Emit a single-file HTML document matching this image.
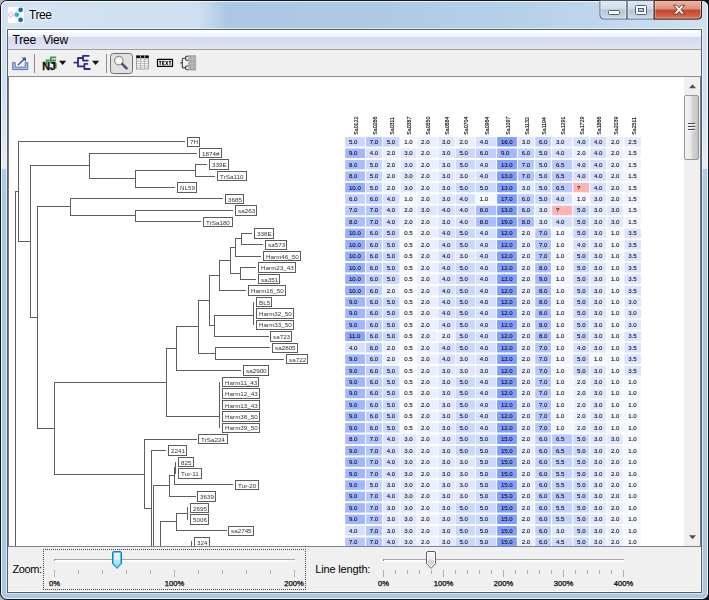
<!DOCTYPE html>
<html><head><meta charset="utf-8"><title>Tree</title>
<style>
*{box-sizing:border-box;margin:0;padding:0}
html,body{width:709px;height:600px;overflow:hidden;background:#b8b8b8;font-family:"Liberation Sans",sans-serif;}
.abs{position:absolute}
#win{position:absolute;left:0;top:0;width:709px;height:600px;border-radius:7px;background:#16181e;overflow:hidden;z-index:1}
#frame{position:absolute;left:1px;top:1px;width:707px;height:598px;border-radius:6px;
 background:linear-gradient(to bottom,#cddff0 0,#d0e1f1 110px,#e2edf7 167.5px,#aecbe6 168.5px,#aac8e3 200px,#aac8e3 100%);overflow:hidden}
#titlegrad{position:absolute;left:0;top:0;width:707px;height:29px;
 background:linear-gradient(to right,#d3e2f2 0,#cddff0 28%,#aac8e3 32%,#aecbe6 55%,#b6d1ea 75%,#c2d9ef 88%,#cfe1f2 100%)}
#hl{position:absolute;left:0;top:0;width:707px;height:598px;border-radius:6px;border:1px solid rgba(255,255,255,.75)}
#inner{position:absolute;left:7px;top:29px;width:695px;height:564px;background:#56606e}
#inhl{position:absolute;left:6px;top:28px;width:697px;height:566px;border:1px solid rgba(255,255,255,.55)}
#client{position:absolute;left:8px;top:30px;width:693px;height:562px;background:#f0f0f0;overflow:hidden}
#menubar{position:absolute;left:0;top:0;width:693px;height:19px;
 background:linear-gradient(to bottom,#ffffff 0,#fcfdff 10%,#edf0fa 35%,#d5d9ee 39%,#dadff1 70%,#e2e7f6 100%)}
#menuline{position:absolute;left:0;top:19px;width:693px;height:1px;background:#a0a0a2}
.mi{position:absolute;top:3px;font-size:12px;color:#000;letter-spacing:-0.2px}
#toolbar{position:absolute;left:0;top:20px;width:693px;height:26px;background:#f0f0f0}
#tbline{position:absolute;left:0;top:46px;width:693px;height:1px;background:#8c8c8c}
#content{position:absolute;left:0px;top:47px;width:676px;height:469px;background:#fff;overflow:hidden;border-left:1px solid #7a7a7a}
#content svg{position:absolute;left:-9px;top:-77px}
#vscroll{position:absolute;left:676px;top:47px;width:17px;height:469px;background:#f0f0f0;border-right:1px solid #747a84}
#thumb{position:absolute;left:0px;top:18px;width:14.5px;height:65px;border:1px solid #979797;border-radius:2px;
 background:linear-gradient(to right,#f3f3f3 0,#e9e9eb 45%,#d6d6d8 55%,#c3c3c6 100%)}
#botline{position:absolute;left:0;top:516px;width:693px;height:1px;background:#7e848e}
#bottom{position:absolute;left:0;top:517px;width:693px;height:45px;background:#f0f0f0}
.lbl{position:absolute;font-size:11px;line-height:11px;color:#000;white-space:nowrap}
.tk{position:absolute;font-size:7.6px;color:#000;-webkit-text-stroke:0.25px #000;transform:translateX(-50%);white-space:nowrap}
#title{position:absolute;left:29px;top:8px;font-size:12px;color:#000;letter-spacing:-0.4px;text-shadow:0 0 6px #fff,0 0 6px #fff,0 0 3px #fff}
</style></head><body>
<div class="abs" style="left:700px;top:0;width:9px;height:9px;background:#151515"></div><div class="abs" style="left:700px;top:591px;width:9px;height:9px;background:#151515"></div>
<div id="win">
 <div id="frame"><div id="titlegrad"></div><div id="hl"></div></div>
 <!-- title icon -->
 <svg class="abs" style="left:8px;top:7px" width="16" height="16" viewBox="0 0 16 16">
  <rect width="16" height="16" fill="#fff"/>
  <circle cx="2.9" cy="7.9" r="2.2" fill="none" stroke="#ff5fb4" stroke-width="0.9" stroke-dasharray="1.1 0.5"/>
  <line x1="5" y1="7.9" x2="12" y2="3" stroke="#cfe2f0" stroke-width="0.8"/>
  <line x1="5" y1="7.9" x2="12" y2="12.8" stroke="#cfe2f0" stroke-width="0.8"/>
  <circle cx="8.8" cy="7.8" r="2.3" fill="#1eb2ee"/>
  <circle cx="12.6" cy="2.9" r="2.4" fill="#1f6db0"/>
  <circle cx="12.6" cy="12.9" r="2.4" fill="#1f6db0"/>
 </svg>
 <div id="title">Tree</div>
 <!-- caption buttons -->
 <svg class="abs" style="left:598px;top:0" width="106" height="22" viewBox="0 0 106 22">
  <defs>
   <linearGradient id="gb" x1="0" y1="0" x2="0" y2="1"><stop offset="0" stop-color="#dfe9f4"/><stop offset=".45" stop-color="#cfdcea"/><stop offset=".5" stop-color="#b4c6d9"/><stop offset="1" stop-color="#c6d6e6"/></linearGradient>
   <linearGradient id="gr" x1="0" y1="0" x2="0" y2="1"><stop offset="0" stop-color="#edb7aa"/><stop offset=".46" stop-color="#dc8f7e"/><stop offset=".52" stop-color="#c4432b"/><stop offset="1" stop-color="#d9704f"/></linearGradient>
  </defs>
  <path d="M1.5 0V14.5Q1.5 19.5 6.5 19.5H99.5Q104 19.5 104 15V0Z" fill="#5b6675"/><path d="M56 0V19.5H99.5Q104 19.5 104 15V0Z" fill="#4d241b"/>
  <path d="M2.5 1V14.5Q2.5 18.5 6.5 18.5H28.2V1Z" fill="url(#gb)"/><path d="M3 1V14.5Q3 18 6.5 18H27.7V1" fill="none" stroke="rgba(255,255,255,.55)" stroke-width=".9"/>
  <path d="M29.8 1V18.5H55.2V1Z" fill="url(#gb)"/><path d="M30.3 1V18H54.7V1" fill="none" stroke="rgba(255,255,255,.55)" stroke-width=".9"/>
  <path d="M56.8 1V18.5H99.5Q103 18.5 103 15V1Z" fill="url(#gr)"/><path d="M57.3 1V18H99.5Q102.5 18 102.5 15V1" fill="none" stroke="rgba(255,255,255,.4)" stroke-width=".9"/>
  <!-- minimize -->
  <rect x="10.5" y="10.5" width="11" height="4" rx="1" fill="#fff" stroke="#53606f" stroke-width="1"/>
  <!-- maximize -->
  <rect x="37.5" y="5.5" width="11" height="9" rx="1" fill="#fff" stroke="#53606f" stroke-width="1"/>
  <rect x="40.5" y="8.5" width="5" height="3" fill="#b9c8d8" stroke="#53606f" stroke-width="1"/>
  <!-- close X -->
  <path d="M75.5 5.2h3.4l2.2 2.6 2.2-2.6h3.4l-3.8 4.4 3.9 4.5h-3.5l-2.2-2.6-2.2 2.6h-3.5l3.9-4.5z" fill="#fff" stroke="#5d3930" stroke-width=".9" stroke-linejoin="round"/>
 </svg>
 <div id="inhl"></div>
 <div id="inner"></div>
 <div id="client">
  <div id="menubar"><div class="mi" style="left:4.5px">Tree</div><div class="mi" style="left:35px">View</div></div>
  <div id="menuline"></div>
  <div id="toolbar">
   <svg class="abs" style="left:0;top:0" width="220" height="26" viewBox="8 50 220 26">
    <!-- export icon -->
    <path d="M12.6 62.6h2.6v4.6h10v-4.6h2.6v7h-15.2z" fill="#a9bde2" stroke="#4e6fae" stroke-width="0.9"/>
    <path d="M18 65.2L25.2 58" stroke="#2b3c94" stroke-width="1.2" fill="none"/>
    <path d="M21.6 57.4h4.4v4.4z" fill="#2b5ca8"/>
    <line x1="34.5" y1="54" x2="34.5" y2="73" stroke="#8e8e8e" stroke-width="1"/>
    <!-- NJ icon -->
    <path d="M56.2 57.4H50.8V63M56 60.3H46.6V64.5M50.8 63.2H55.5M55.8 63v5.5" stroke="#3a9a48" stroke-width="1.7" fill="none"/>
    <text x="42.2" y="69.6" font-size="10.8" font-weight="bold" fill="#111" stroke="#111" stroke-width=".35" letter-spacing="-0.3">NJ</text>
    <path d="M59 60.8h7.2l-3.6 4.2z" fill="#111"/>
    <!-- cluster icon -->
    <path d="M74.3 62.6H78M78 58V66.4M78 58H83M83 55.8V60.6M83 55.8H88.8M83 60.6H87.8M78 66.4H84.4M84.4 63.8V69M84.4 63.8H87.4M84.4 69H89.8" stroke="#2b2b8e" stroke-width="1.8" fill="none" stroke-linecap="round" stroke-linejoin="round"/>
    <path d="M92 60.8h7.2l-3.6 4.2z" fill="#111"/>
    <line x1="106.5" y1="54" x2="106.5" y2="73" stroke="#8e8e8e" stroke-width="1"/>
    <!-- magnifier button -->
    <rect x="110.5" y="53.5" width="22" height="20" rx="3" fill="#e1e1e1" stroke="#6f6f6f" stroke-width="1"/>
    <circle cx="118.8" cy="60.6" r="4.2" fill="#f8f8f2" stroke="#8f8f8f" stroke-width="1.2"/>
    <line x1="122.4" y1="64.2" x2="126.6" y2="68.4" stroke="#4c4c80" stroke-width="2.6" stroke-linecap="round"/>
    <!-- grid icon -->
    <rect x="136.4" y="55.6" width="12.2" height="13.4" fill="#fff" stroke="#8c8c8c" stroke-width=".8"/>
    <path d="M136.4 59.9h12.2M136.4 61.7h12.2M136.4 63.5h12.2M136.4 65.3h12.2M136.4 67.1h12.2M140.5 58v11M144.6 58v11" stroke="#9a9a9a" stroke-width=".6" fill="none"/>
    <rect x="136.3" y="55.6" width="12.4" height="2.6" fill="#0c0c0c"/>
    <path d="M140.5 55.4v3M144.6 55.4v3" stroke="#e8e8e8" stroke-width=".7"/>
    <!-- TEXT icon -->
    <rect x="157.5" y="59.3" width="15" height="7" rx="0.4" fill="#fff" stroke="#000" stroke-width="1.25"/>
    <path d="M158.9 61.3H161.5M160.2 61.3V65M164.7 61.3H162.6V64.9H164.7M162.6 63.1H164.2M165.5 61L168 65M168 61L165.5 65M168.7 61.3H171.3M170 61.3V65" stroke="#000" stroke-width="0.95" fill="none"/>
    <!-- tree-grid icon -->
    <rect x="188.3" y="55.2" width="7.8" height="15.4" fill="#a9a9a9"/>
    <path d="M188.3 59h7.8M188.3 62.9h7.8M188.3 66.8h7.8M192.2 55.2v15.4" stroke="#c2c2c2" stroke-width=".7"/>
    <path d="M180.4 62.9H182.3M182.3 59.4V66.8M182.3 59.4Q182.3 58.3 183.4 58.3H185.6M182.3 66.8Q182.3 67.9 183.4 67.9H185.6M185.7 57.2V59.6M185.7 57.2Q185.7 56.3 186.8 56.3H188.3M185.7 59.4Q185.7 60.2 186.8 60.2H188.3M185.7 66.6V69M185.7 66.8Q185.7 66 186.8 66H188.3M185.7 68.8Q185.7 69.7 186.8 69.7H188.3" stroke="#3c3c3c" stroke-width="1.1" fill="none"/>
   </svg>
  </div>
  <div id="tbline"></div>
  <div id="content">
   <svg width="709" height="600" viewBox="0 0 709 600" font-family="Liberation Sans, sans-serif">
<defs><filter id="gs" x="0" y="0" width="709" height="600" filterUnits="userSpaceOnUse" color-interpolation-filters="sRGB"><feColorMatrix type="saturate" values="0"/></filter></defs>
<rect x="345.2" y="137.08" width="19.8" height="9.47" fill="#cad7ff"/>
<rect x="366.0" y="137.08" width="16.0" height="9.47" fill="#b5c6ff"/>
<rect x="382.9" y="137.08" width="16.5" height="9.47" fill="#cad7ff"/>
<rect x="400.4" y="137.08" width="16.1" height="9.47" fill="#f4f7ff"/>
<rect x="417.3" y="137.08" width="20.2" height="9.47" fill="#eaefff"/>
<rect x="438.2" y="137.08" width="16.7" height="9.47" fill="#dfe7ff"/>
<rect x="455.6" y="137.08" width="19.6" height="9.47" fill="#eaefff"/>
<rect x="476.0" y="137.08" width="20.2" height="9.47" fill="#d5dfff"/>
<rect x="497.1" y="137.08" width="19.8" height="9.47" fill="#809eff"/>
<rect x="518.0" y="137.08" width="16.0" height="9.47" fill="#dfe7ff"/>
<rect x="535.2" y="137.08" width="15.8" height="9.47" fill="#bfcfff"/>
<rect x="552.1" y="137.08" width="20.1" height="9.47" fill="#dfe7ff"/>
<rect x="573.3" y="137.08" width="15.8" height="9.47" fill="#d5dfff"/>
<rect x="590.2" y="137.08" width="15.8" height="9.47" fill="#d5dfff"/>
<rect x="607.1" y="137.08" width="15.9" height="9.47" fill="#eaefff"/>
<rect x="624.4" y="137.08" width="16.6" height="9.47" fill="#e5ebff"/>
<rect x="345.2" y="148.52" width="19.8" height="9.47" fill="#a0b6ff"/>
<rect x="366.0" y="148.52" width="16.0" height="9.47" fill="#d5dfff"/>
<rect x="382.9" y="148.52" width="16.5" height="9.47" fill="#eaefff"/>
<rect x="400.4" y="148.52" width="16.1" height="9.47" fill="#dfe7ff"/>
<rect x="417.3" y="148.52" width="20.2" height="9.47" fill="#eaefff"/>
<rect x="438.2" y="148.52" width="16.7" height="9.47" fill="#dfe7ff"/>
<rect x="455.6" y="148.52" width="19.6" height="9.47" fill="#cad7ff"/>
<rect x="476.0" y="148.52" width="20.2" height="9.47" fill="#bfcfff"/>
<rect x="497.1" y="148.52" width="19.8" height="9.47" fill="#a0b6ff"/>
<rect x="518.0" y="148.52" width="16.0" height="9.47" fill="#bfcfff"/>
<rect x="535.2" y="148.52" width="15.8" height="9.47" fill="#cad7ff"/>
<rect x="552.1" y="148.52" width="20.1" height="9.47" fill="#d5dfff"/>
<rect x="573.3" y="148.52" width="15.8" height="9.47" fill="#eaefff"/>
<rect x="590.2" y="148.52" width="15.8" height="9.47" fill="#d5dfff"/>
<rect x="607.1" y="148.52" width="15.9" height="9.47" fill="#eaefff"/>
<rect x="624.4" y="148.52" width="16.6" height="9.47" fill="#eff3ff"/>
<rect x="345.2" y="159.96" width="19.8" height="9.47" fill="#aabeff"/>
<rect x="366.0" y="159.96" width="16.0" height="9.47" fill="#cad7ff"/>
<rect x="382.9" y="159.96" width="16.5" height="9.47" fill="#eaefff"/>
<rect x="400.4" y="159.96" width="16.1" height="9.47" fill="#dfe7ff"/>
<rect x="417.3" y="159.96" width="20.2" height="9.47" fill="#eaefff"/>
<rect x="438.2" y="159.96" width="16.7" height="9.47" fill="#dfe7ff"/>
<rect x="455.6" y="159.96" width="19.6" height="9.47" fill="#cad7ff"/>
<rect x="476.0" y="159.96" width="20.2" height="9.47" fill="#d5dfff"/>
<rect x="497.1" y="159.96" width="19.8" height="9.47" fill="#809eff"/>
<rect x="518.0" y="159.96" width="16.0" height="9.47" fill="#b5c6ff"/>
<rect x="535.2" y="159.96" width="15.8" height="9.47" fill="#cad7ff"/>
<rect x="552.1" y="159.96" width="20.1" height="9.47" fill="#bacaff"/>
<rect x="573.3" y="159.96" width="15.8" height="9.47" fill="#d5dfff"/>
<rect x="590.2" y="159.96" width="15.8" height="9.47" fill="#d5dfff"/>
<rect x="607.1" y="159.96" width="15.9" height="9.47" fill="#eaefff"/>
<rect x="624.4" y="159.96" width="16.6" height="9.47" fill="#eff3ff"/>
<rect x="345.2" y="171.40" width="19.8" height="9.47" fill="#aabeff"/>
<rect x="366.0" y="171.40" width="16.0" height="9.47" fill="#cad7ff"/>
<rect x="382.9" y="171.40" width="16.5" height="9.47" fill="#eaefff"/>
<rect x="400.4" y="171.40" width="16.1" height="9.47" fill="#dfe7ff"/>
<rect x="417.3" y="171.40" width="20.2" height="9.47" fill="#eaefff"/>
<rect x="438.2" y="171.40" width="16.7" height="9.47" fill="#dfe7ff"/>
<rect x="455.6" y="171.40" width="19.6" height="9.47" fill="#dfe7ff"/>
<rect x="476.0" y="171.40" width="20.2" height="9.47" fill="#d5dfff"/>
<rect x="497.1" y="171.40" width="19.8" height="9.47" fill="#809eff"/>
<rect x="518.0" y="171.40" width="16.0" height="9.47" fill="#b5c6ff"/>
<rect x="535.2" y="171.40" width="15.8" height="9.47" fill="#cad7ff"/>
<rect x="552.1" y="171.40" width="20.1" height="9.47" fill="#bacaff"/>
<rect x="573.3" y="171.40" width="15.8" height="9.47" fill="#d5dfff"/>
<rect x="590.2" y="171.40" width="15.8" height="9.47" fill="#d5dfff"/>
<rect x="607.1" y="171.40" width="15.9" height="9.47" fill="#eaefff"/>
<rect x="624.4" y="171.40" width="16.6" height="9.47" fill="#eff3ff"/>
<rect x="345.2" y="182.84" width="19.8" height="9.47" fill="#95aeff"/>
<rect x="366.0" y="182.84" width="16.0" height="9.47" fill="#cad7ff"/>
<rect x="382.9" y="182.84" width="16.5" height="9.47" fill="#eaefff"/>
<rect x="400.4" y="182.84" width="16.1" height="9.47" fill="#dfe7ff"/>
<rect x="417.3" y="182.84" width="20.2" height="9.47" fill="#eaefff"/>
<rect x="438.2" y="182.84" width="16.7" height="9.47" fill="#dfe7ff"/>
<rect x="455.6" y="182.84" width="19.6" height="9.47" fill="#cad7ff"/>
<rect x="476.0" y="182.84" width="20.2" height="9.47" fill="#cad7ff"/>
<rect x="497.1" y="182.84" width="19.8" height="9.47" fill="#809eff"/>
<rect x="518.0" y="182.84" width="16.0" height="9.47" fill="#dfe7ff"/>
<rect x="535.2" y="182.84" width="15.8" height="9.47" fill="#cad7ff"/>
<rect x="552.1" y="182.84" width="20.1" height="9.47" fill="#bacaff"/>
<rect x="573.3" y="182.84" width="15.8" height="9.47" fill="#ffb4b4"/>
<rect x="590.2" y="182.84" width="15.8" height="9.47" fill="#d5dfff"/>
<rect x="607.1" y="182.84" width="15.9" height="9.47" fill="#eaefff"/>
<rect x="624.4" y="182.84" width="16.6" height="9.47" fill="#eff3ff"/>
<rect x="345.2" y="194.28" width="19.8" height="9.47" fill="#bfcfff"/>
<rect x="366.0" y="194.28" width="16.0" height="9.47" fill="#bfcfff"/>
<rect x="382.9" y="194.28" width="16.5" height="9.47" fill="#d5dfff"/>
<rect x="400.4" y="194.28" width="16.1" height="9.47" fill="#f4f7ff"/>
<rect x="417.3" y="194.28" width="20.2" height="9.47" fill="#eaefff"/>
<rect x="438.2" y="194.28" width="16.7" height="9.47" fill="#dfe7ff"/>
<rect x="455.6" y="194.28" width="19.6" height="9.47" fill="#d5dfff"/>
<rect x="476.0" y="194.28" width="20.2" height="9.47" fill="#f4f7ff"/>
<rect x="497.1" y="194.28" width="19.8" height="9.47" fill="#809eff"/>
<rect x="518.0" y="194.28" width="16.0" height="9.47" fill="#bfcfff"/>
<rect x="535.2" y="194.28" width="15.8" height="9.47" fill="#cad7ff"/>
<rect x="552.1" y="194.28" width="20.1" height="9.47" fill="#d5dfff"/>
<rect x="573.3" y="194.28" width="15.8" height="9.47" fill="#f4f7ff"/>
<rect x="590.2" y="194.28" width="15.8" height="9.47" fill="#dfe7ff"/>
<rect x="607.1" y="194.28" width="15.9" height="9.47" fill="#eaefff"/>
<rect x="624.4" y="194.28" width="16.6" height="9.47" fill="#eff3ff"/>
<rect x="345.2" y="205.72" width="19.8" height="9.47" fill="#b5c6ff"/>
<rect x="366.0" y="205.72" width="16.0" height="9.47" fill="#b5c6ff"/>
<rect x="382.9" y="205.72" width="16.5" height="9.47" fill="#d5dfff"/>
<rect x="400.4" y="205.72" width="16.1" height="9.47" fill="#eaefff"/>
<rect x="417.3" y="205.72" width="20.2" height="9.47" fill="#dfe7ff"/>
<rect x="438.2" y="205.72" width="16.7" height="9.47" fill="#d5dfff"/>
<rect x="455.6" y="205.72" width="19.6" height="9.47" fill="#d5dfff"/>
<rect x="476.0" y="205.72" width="20.2" height="9.47" fill="#aabeff"/>
<rect x="497.1" y="205.72" width="19.8" height="9.47" fill="#809eff"/>
<rect x="518.0" y="205.72" width="16.0" height="9.47" fill="#bfcfff"/>
<rect x="535.2" y="205.72" width="15.8" height="9.47" fill="#dfe7ff"/>
<rect x="552.1" y="205.72" width="20.1" height="9.47" fill="#ffb4b4"/>
<rect x="573.3" y="205.72" width="15.8" height="9.47" fill="#cad7ff"/>
<rect x="590.2" y="205.72" width="15.8" height="9.47" fill="#dfe7ff"/>
<rect x="607.1" y="205.72" width="15.9" height="9.47" fill="#dfe7ff"/>
<rect x="624.4" y="205.72" width="16.6" height="9.47" fill="#eff3ff"/>
<rect x="345.2" y="217.16" width="19.8" height="9.47" fill="#aabeff"/>
<rect x="366.0" y="217.16" width="16.0" height="9.47" fill="#b5c6ff"/>
<rect x="382.9" y="217.16" width="16.5" height="9.47" fill="#d5dfff"/>
<rect x="400.4" y="217.16" width="16.1" height="9.47" fill="#eaefff"/>
<rect x="417.3" y="217.16" width="20.2" height="9.47" fill="#eaefff"/>
<rect x="438.2" y="217.16" width="16.7" height="9.47" fill="#dfe7ff"/>
<rect x="455.6" y="217.16" width="19.6" height="9.47" fill="#d5dfff"/>
<rect x="476.0" y="217.16" width="20.2" height="9.47" fill="#aabeff"/>
<rect x="497.1" y="217.16" width="19.8" height="9.47" fill="#809eff"/>
<rect x="518.0" y="217.16" width="16.0" height="9.47" fill="#aabeff"/>
<rect x="535.2" y="217.16" width="15.8" height="9.47" fill="#dfe7ff"/>
<rect x="552.1" y="217.16" width="20.1" height="9.47" fill="#d5dfff"/>
<rect x="573.3" y="217.16" width="15.8" height="9.47" fill="#cad7ff"/>
<rect x="590.2" y="217.16" width="15.8" height="9.47" fill="#dfe7ff"/>
<rect x="607.1" y="217.16" width="15.9" height="9.47" fill="#dfe7ff"/>
<rect x="624.4" y="217.16" width="16.6" height="9.47" fill="#eff3ff"/>
<rect x="345.2" y="228.60" width="19.8" height="9.47" fill="#95aeff"/>
<rect x="366.0" y="228.60" width="16.0" height="9.47" fill="#bfcfff"/>
<rect x="382.9" y="228.60" width="16.5" height="9.47" fill="#cad7ff"/>
<rect x="400.4" y="228.60" width="16.1" height="9.47" fill="#fafbff"/>
<rect x="417.3" y="228.60" width="20.2" height="9.47" fill="#eaefff"/>
<rect x="438.2" y="228.60" width="16.7" height="9.47" fill="#d5dfff"/>
<rect x="455.6" y="228.60" width="19.6" height="9.47" fill="#cad7ff"/>
<rect x="476.0" y="228.60" width="20.2" height="9.47" fill="#d5dfff"/>
<rect x="497.1" y="228.60" width="19.8" height="9.47" fill="#809eff"/>
<rect x="518.0" y="228.60" width="16.0" height="9.47" fill="#eaefff"/>
<rect x="535.2" y="228.60" width="15.8" height="9.47" fill="#b5c6ff"/>
<rect x="552.1" y="228.60" width="20.1" height="9.47" fill="#f4f7ff"/>
<rect x="573.3" y="228.60" width="15.8" height="9.47" fill="#cad7ff"/>
<rect x="590.2" y="228.60" width="15.8" height="9.47" fill="#dfe7ff"/>
<rect x="607.1" y="228.60" width="15.9" height="9.47" fill="#f4f7ff"/>
<rect x="624.4" y="228.60" width="16.6" height="9.47" fill="#dae3ff"/>
<rect x="345.2" y="240.04" width="19.8" height="9.47" fill="#95aeff"/>
<rect x="366.0" y="240.04" width="16.0" height="9.47" fill="#bfcfff"/>
<rect x="382.9" y="240.04" width="16.5" height="9.47" fill="#cad7ff"/>
<rect x="400.4" y="240.04" width="16.1" height="9.47" fill="#fafbff"/>
<rect x="417.3" y="240.04" width="20.2" height="9.47" fill="#eaefff"/>
<rect x="438.2" y="240.04" width="16.7" height="9.47" fill="#d5dfff"/>
<rect x="455.6" y="240.04" width="19.6" height="9.47" fill="#cad7ff"/>
<rect x="476.0" y="240.04" width="20.2" height="9.47" fill="#d5dfff"/>
<rect x="497.1" y="240.04" width="19.8" height="9.47" fill="#809eff"/>
<rect x="518.0" y="240.04" width="16.0" height="9.47" fill="#eaefff"/>
<rect x="535.2" y="240.04" width="15.8" height="9.47" fill="#b5c6ff"/>
<rect x="552.1" y="240.04" width="20.1" height="9.47" fill="#f4f7ff"/>
<rect x="573.3" y="240.04" width="15.8" height="9.47" fill="#d5dfff"/>
<rect x="590.2" y="240.04" width="15.8" height="9.47" fill="#dfe7ff"/>
<rect x="607.1" y="240.04" width="15.9" height="9.47" fill="#f4f7ff"/>
<rect x="624.4" y="240.04" width="16.6" height="9.47" fill="#dae3ff"/>
<rect x="345.2" y="251.48" width="19.8" height="9.47" fill="#95aeff"/>
<rect x="366.0" y="251.48" width="16.0" height="9.47" fill="#bfcfff"/>
<rect x="382.9" y="251.48" width="16.5" height="9.47" fill="#cad7ff"/>
<rect x="400.4" y="251.48" width="16.1" height="9.47" fill="#fafbff"/>
<rect x="417.3" y="251.48" width="20.2" height="9.47" fill="#eaefff"/>
<rect x="438.2" y="251.48" width="16.7" height="9.47" fill="#d5dfff"/>
<rect x="455.6" y="251.48" width="19.6" height="9.47" fill="#dfe7ff"/>
<rect x="476.0" y="251.48" width="20.2" height="9.47" fill="#d5dfff"/>
<rect x="497.1" y="251.48" width="19.8" height="9.47" fill="#809eff"/>
<rect x="518.0" y="251.48" width="16.0" height="9.47" fill="#eaefff"/>
<rect x="535.2" y="251.48" width="15.8" height="9.47" fill="#b5c6ff"/>
<rect x="552.1" y="251.48" width="20.1" height="9.47" fill="#f4f7ff"/>
<rect x="573.3" y="251.48" width="15.8" height="9.47" fill="#cad7ff"/>
<rect x="590.2" y="251.48" width="15.8" height="9.47" fill="#dfe7ff"/>
<rect x="607.1" y="251.48" width="15.9" height="9.47" fill="#f4f7ff"/>
<rect x="624.4" y="251.48" width="16.6" height="9.47" fill="#dae3ff"/>
<rect x="345.2" y="262.92" width="19.8" height="9.47" fill="#95aeff"/>
<rect x="366.0" y="262.92" width="16.0" height="9.47" fill="#bfcfff"/>
<rect x="382.9" y="262.92" width="16.5" height="9.47" fill="#cad7ff"/>
<rect x="400.4" y="262.92" width="16.1" height="9.47" fill="#fafbff"/>
<rect x="417.3" y="262.92" width="20.2" height="9.47" fill="#eaefff"/>
<rect x="438.2" y="262.92" width="16.7" height="9.47" fill="#d5dfff"/>
<rect x="455.6" y="262.92" width="19.6" height="9.47" fill="#cad7ff"/>
<rect x="476.0" y="262.92" width="20.2" height="9.47" fill="#d5dfff"/>
<rect x="497.1" y="262.92" width="19.8" height="9.47" fill="#809eff"/>
<rect x="518.0" y="262.92" width="16.0" height="9.47" fill="#eaefff"/>
<rect x="535.2" y="262.92" width="15.8" height="9.47" fill="#aabeff"/>
<rect x="552.1" y="262.92" width="20.1" height="9.47" fill="#f4f7ff"/>
<rect x="573.3" y="262.92" width="15.8" height="9.47" fill="#cad7ff"/>
<rect x="590.2" y="262.92" width="15.8" height="9.47" fill="#dfe7ff"/>
<rect x="607.1" y="262.92" width="15.9" height="9.47" fill="#f4f7ff"/>
<rect x="624.4" y="262.92" width="16.6" height="9.47" fill="#dae3ff"/>
<rect x="345.2" y="274.36" width="19.8" height="9.47" fill="#95aeff"/>
<rect x="366.0" y="274.36" width="16.0" height="9.47" fill="#bfcfff"/>
<rect x="382.9" y="274.36" width="16.5" height="9.47" fill="#cad7ff"/>
<rect x="400.4" y="274.36" width="16.1" height="9.47" fill="#fafbff"/>
<rect x="417.3" y="274.36" width="20.2" height="9.47" fill="#eaefff"/>
<rect x="438.2" y="274.36" width="16.7" height="9.47" fill="#d5dfff"/>
<rect x="455.6" y="274.36" width="19.6" height="9.47" fill="#cad7ff"/>
<rect x="476.0" y="274.36" width="20.2" height="9.47" fill="#d5dfff"/>
<rect x="497.1" y="274.36" width="19.8" height="9.47" fill="#809eff"/>
<rect x="518.0" y="274.36" width="16.0" height="9.47" fill="#eaefff"/>
<rect x="535.2" y="274.36" width="15.8" height="9.47" fill="#a0b6ff"/>
<rect x="552.1" y="274.36" width="20.1" height="9.47" fill="#f4f7ff"/>
<rect x="573.3" y="274.36" width="15.8" height="9.47" fill="#cad7ff"/>
<rect x="590.2" y="274.36" width="15.8" height="9.47" fill="#dfe7ff"/>
<rect x="607.1" y="274.36" width="15.9" height="9.47" fill="#f4f7ff"/>
<rect x="624.4" y="274.36" width="16.6" height="9.47" fill="#dae3ff"/>
<rect x="345.2" y="285.80" width="19.8" height="9.47" fill="#95aeff"/>
<rect x="366.0" y="285.80" width="16.0" height="9.47" fill="#bfcfff"/>
<rect x="382.9" y="285.80" width="16.5" height="9.47" fill="#eaefff"/>
<rect x="400.4" y="285.80" width="16.1" height="9.47" fill="#fafbff"/>
<rect x="417.3" y="285.80" width="20.2" height="9.47" fill="#eaefff"/>
<rect x="438.2" y="285.80" width="16.7" height="9.47" fill="#d5dfff"/>
<rect x="455.6" y="285.80" width="19.6" height="9.47" fill="#cad7ff"/>
<rect x="476.0" y="285.80" width="20.2" height="9.47" fill="#d5dfff"/>
<rect x="497.1" y="285.80" width="19.8" height="9.47" fill="#809eff"/>
<rect x="518.0" y="285.80" width="16.0" height="9.47" fill="#eaefff"/>
<rect x="535.2" y="285.80" width="15.8" height="9.47" fill="#aabeff"/>
<rect x="552.1" y="285.80" width="20.1" height="9.47" fill="#f4f7ff"/>
<rect x="573.3" y="285.80" width="15.8" height="9.47" fill="#cad7ff"/>
<rect x="590.2" y="285.80" width="15.8" height="9.47" fill="#dfe7ff"/>
<rect x="607.1" y="285.80" width="15.9" height="9.47" fill="#f4f7ff"/>
<rect x="624.4" y="285.80" width="16.6" height="9.47" fill="#dae3ff"/>
<rect x="345.2" y="297.24" width="19.8" height="9.47" fill="#a0b6ff"/>
<rect x="366.0" y="297.24" width="16.0" height="9.47" fill="#bfcfff"/>
<rect x="382.9" y="297.24" width="16.5" height="9.47" fill="#cad7ff"/>
<rect x="400.4" y="297.24" width="16.1" height="9.47" fill="#fafbff"/>
<rect x="417.3" y="297.24" width="20.2" height="9.47" fill="#eaefff"/>
<rect x="438.2" y="297.24" width="16.7" height="9.47" fill="#d5dfff"/>
<rect x="455.6" y="297.24" width="19.6" height="9.47" fill="#cad7ff"/>
<rect x="476.0" y="297.24" width="20.2" height="9.47" fill="#d5dfff"/>
<rect x="497.1" y="297.24" width="19.8" height="9.47" fill="#809eff"/>
<rect x="518.0" y="297.24" width="16.0" height="9.47" fill="#eaefff"/>
<rect x="535.2" y="297.24" width="15.8" height="9.47" fill="#aabeff"/>
<rect x="552.1" y="297.24" width="20.1" height="9.47" fill="#f4f7ff"/>
<rect x="573.3" y="297.24" width="15.8" height="9.47" fill="#cad7ff"/>
<rect x="590.2" y="297.24" width="15.8" height="9.47" fill="#dfe7ff"/>
<rect x="607.1" y="297.24" width="15.9" height="9.47" fill="#f4f7ff"/>
<rect x="624.4" y="297.24" width="16.6" height="9.47" fill="#dfe7ff"/>
<rect x="345.2" y="308.68" width="19.8" height="9.47" fill="#a0b6ff"/>
<rect x="366.0" y="308.68" width="16.0" height="9.47" fill="#bfcfff"/>
<rect x="382.9" y="308.68" width="16.5" height="9.47" fill="#cad7ff"/>
<rect x="400.4" y="308.68" width="16.1" height="9.47" fill="#fafbff"/>
<rect x="417.3" y="308.68" width="20.2" height="9.47" fill="#eaefff"/>
<rect x="438.2" y="308.68" width="16.7" height="9.47" fill="#d5dfff"/>
<rect x="455.6" y="308.68" width="19.6" height="9.47" fill="#cad7ff"/>
<rect x="476.0" y="308.68" width="20.2" height="9.47" fill="#d5dfff"/>
<rect x="497.1" y="308.68" width="19.8" height="9.47" fill="#809eff"/>
<rect x="518.0" y="308.68" width="16.0" height="9.47" fill="#eaefff"/>
<rect x="535.2" y="308.68" width="15.8" height="9.47" fill="#aabeff"/>
<rect x="552.1" y="308.68" width="20.1" height="9.47" fill="#f4f7ff"/>
<rect x="573.3" y="308.68" width="15.8" height="9.47" fill="#cad7ff"/>
<rect x="590.2" y="308.68" width="15.8" height="9.47" fill="#dfe7ff"/>
<rect x="607.1" y="308.68" width="15.9" height="9.47" fill="#f4f7ff"/>
<rect x="624.4" y="308.68" width="16.6" height="9.47" fill="#dfe7ff"/>
<rect x="345.2" y="320.12" width="19.8" height="9.47" fill="#a0b6ff"/>
<rect x="366.0" y="320.12" width="16.0" height="9.47" fill="#bfcfff"/>
<rect x="382.9" y="320.12" width="16.5" height="9.47" fill="#cad7ff"/>
<rect x="400.4" y="320.12" width="16.1" height="9.47" fill="#fafbff"/>
<rect x="417.3" y="320.12" width="20.2" height="9.47" fill="#eaefff"/>
<rect x="438.2" y="320.12" width="16.7" height="9.47" fill="#d5dfff"/>
<rect x="455.6" y="320.12" width="19.6" height="9.47" fill="#cad7ff"/>
<rect x="476.0" y="320.12" width="20.2" height="9.47" fill="#d5dfff"/>
<rect x="497.1" y="320.12" width="19.8" height="9.47" fill="#809eff"/>
<rect x="518.0" y="320.12" width="16.0" height="9.47" fill="#eaefff"/>
<rect x="535.2" y="320.12" width="15.8" height="9.47" fill="#aabeff"/>
<rect x="552.1" y="320.12" width="20.1" height="9.47" fill="#f4f7ff"/>
<rect x="573.3" y="320.12" width="15.8" height="9.47" fill="#cad7ff"/>
<rect x="590.2" y="320.12" width="15.8" height="9.47" fill="#dfe7ff"/>
<rect x="607.1" y="320.12" width="15.9" height="9.47" fill="#f4f7ff"/>
<rect x="624.4" y="320.12" width="16.6" height="9.47" fill="#dfe7ff"/>
<rect x="345.2" y="331.56" width="19.8" height="9.47" fill="#8ba6ff"/>
<rect x="366.0" y="331.56" width="16.0" height="9.47" fill="#bfcfff"/>
<rect x="382.9" y="331.56" width="16.5" height="9.47" fill="#cad7ff"/>
<rect x="400.4" y="331.56" width="16.1" height="9.47" fill="#fafbff"/>
<rect x="417.3" y="331.56" width="20.2" height="9.47" fill="#eaefff"/>
<rect x="438.2" y="331.56" width="16.7" height="9.47" fill="#eaefff"/>
<rect x="455.6" y="331.56" width="19.6" height="9.47" fill="#cad7ff"/>
<rect x="476.0" y="331.56" width="20.2" height="9.47" fill="#d5dfff"/>
<rect x="497.1" y="331.56" width="19.8" height="9.47" fill="#809eff"/>
<rect x="518.0" y="331.56" width="16.0" height="9.47" fill="#eaefff"/>
<rect x="535.2" y="331.56" width="15.8" height="9.47" fill="#aabeff"/>
<rect x="552.1" y="331.56" width="20.1" height="9.47" fill="#f4f7ff"/>
<rect x="573.3" y="331.56" width="15.8" height="9.47" fill="#cad7ff"/>
<rect x="590.2" y="331.56" width="15.8" height="9.47" fill="#dfe7ff"/>
<rect x="607.1" y="331.56" width="15.9" height="9.47" fill="#f4f7ff"/>
<rect x="624.4" y="331.56" width="16.6" height="9.47" fill="#dae3ff"/>
<rect x="345.2" y="343.00" width="19.8" height="9.47" fill="#d5dfff"/>
<rect x="366.0" y="343.00" width="16.0" height="9.47" fill="#bfcfff"/>
<rect x="382.9" y="343.00" width="16.5" height="9.47" fill="#eaefff"/>
<rect x="400.4" y="343.00" width="16.1" height="9.47" fill="#fafbff"/>
<rect x="417.3" y="343.00" width="20.2" height="9.47" fill="#eaefff"/>
<rect x="438.2" y="343.00" width="16.7" height="9.47" fill="#d5dfff"/>
<rect x="455.6" y="343.00" width="19.6" height="9.47" fill="#cad7ff"/>
<rect x="476.0" y="343.00" width="20.2" height="9.47" fill="#d5dfff"/>
<rect x="497.1" y="343.00" width="19.8" height="9.47" fill="#809eff"/>
<rect x="518.0" y="343.00" width="16.0" height="9.47" fill="#eaefff"/>
<rect x="535.2" y="343.00" width="15.8" height="9.47" fill="#b5c6ff"/>
<rect x="552.1" y="343.00" width="20.1" height="9.47" fill="#f4f7ff"/>
<rect x="573.3" y="343.00" width="15.8" height="9.47" fill="#d5dfff"/>
<rect x="590.2" y="343.00" width="15.8" height="9.47" fill="#dfe7ff"/>
<rect x="607.1" y="343.00" width="15.9" height="9.47" fill="#f4f7ff"/>
<rect x="624.4" y="343.00" width="16.6" height="9.47" fill="#dae3ff"/>
<rect x="345.2" y="354.44" width="19.8" height="9.47" fill="#a0b6ff"/>
<rect x="366.0" y="354.44" width="16.0" height="9.47" fill="#bfcfff"/>
<rect x="382.9" y="354.44" width="16.5" height="9.47" fill="#eaefff"/>
<rect x="400.4" y="354.44" width="16.1" height="9.47" fill="#fafbff"/>
<rect x="417.3" y="354.44" width="20.2" height="9.47" fill="#eaefff"/>
<rect x="438.2" y="354.44" width="16.7" height="9.47" fill="#d5dfff"/>
<rect x="455.6" y="354.44" width="19.6" height="9.47" fill="#dfe7ff"/>
<rect x="476.0" y="354.44" width="20.2" height="9.47" fill="#d5dfff"/>
<rect x="497.1" y="354.44" width="19.8" height="9.47" fill="#809eff"/>
<rect x="518.0" y="354.44" width="16.0" height="9.47" fill="#eaefff"/>
<rect x="535.2" y="354.44" width="15.8" height="9.47" fill="#b5c6ff"/>
<rect x="552.1" y="354.44" width="20.1" height="9.47" fill="#f4f7ff"/>
<rect x="573.3" y="354.44" width="15.8" height="9.47" fill="#cad7ff"/>
<rect x="590.2" y="354.44" width="15.8" height="9.47" fill="#f4f7ff"/>
<rect x="607.1" y="354.44" width="15.9" height="9.47" fill="#f4f7ff"/>
<rect x="624.4" y="354.44" width="16.6" height="9.47" fill="#dae3ff"/>
<rect x="345.2" y="365.88" width="19.8" height="9.47" fill="#a0b6ff"/>
<rect x="366.0" y="365.88" width="16.0" height="9.47" fill="#bfcfff"/>
<rect x="382.9" y="365.88" width="16.5" height="9.47" fill="#cad7ff"/>
<rect x="400.4" y="365.88" width="16.1" height="9.47" fill="#fafbff"/>
<rect x="417.3" y="365.88" width="20.2" height="9.47" fill="#eaefff"/>
<rect x="438.2" y="365.88" width="16.7" height="9.47" fill="#dfe7ff"/>
<rect x="455.6" y="365.88" width="19.6" height="9.47" fill="#dfe7ff"/>
<rect x="476.0" y="365.88" width="20.2" height="9.47" fill="#dfe7ff"/>
<rect x="497.1" y="365.88" width="19.8" height="9.47" fill="#809eff"/>
<rect x="518.0" y="365.88" width="16.0" height="9.47" fill="#eaefff"/>
<rect x="535.2" y="365.88" width="15.8" height="9.47" fill="#b5c6ff"/>
<rect x="552.1" y="365.88" width="20.1" height="9.47" fill="#f4f7ff"/>
<rect x="573.3" y="365.88" width="15.8" height="9.47" fill="#cad7ff"/>
<rect x="590.2" y="365.88" width="15.8" height="9.47" fill="#dfe7ff"/>
<rect x="607.1" y="365.88" width="15.9" height="9.47" fill="#f4f7ff"/>
<rect x="624.4" y="365.88" width="16.6" height="9.47" fill="#dae3ff"/>
<rect x="345.2" y="377.32" width="19.8" height="9.47" fill="#a0b6ff"/>
<rect x="366.0" y="377.32" width="16.0" height="9.47" fill="#bfcfff"/>
<rect x="382.9" y="377.32" width="16.5" height="9.47" fill="#cad7ff"/>
<rect x="400.4" y="377.32" width="16.1" height="9.47" fill="#fafbff"/>
<rect x="417.3" y="377.32" width="20.2" height="9.47" fill="#eaefff"/>
<rect x="438.2" y="377.32" width="16.7" height="9.47" fill="#dfe7ff"/>
<rect x="455.6" y="377.32" width="19.6" height="9.47" fill="#cad7ff"/>
<rect x="476.0" y="377.32" width="20.2" height="9.47" fill="#d5dfff"/>
<rect x="497.1" y="377.32" width="19.8" height="9.47" fill="#809eff"/>
<rect x="518.0" y="377.32" width="16.0" height="9.47" fill="#eaefff"/>
<rect x="535.2" y="377.32" width="15.8" height="9.47" fill="#b5c6ff"/>
<rect x="552.1" y="377.32" width="20.1" height="9.47" fill="#f4f7ff"/>
<rect x="573.3" y="377.32" width="15.8" height="9.47" fill="#eaefff"/>
<rect x="590.2" y="377.32" width="15.8" height="9.47" fill="#dfe7ff"/>
<rect x="607.1" y="377.32" width="15.9" height="9.47" fill="#f4f7ff"/>
<rect x="624.4" y="377.32" width="16.6" height="9.47" fill="#f4f7ff"/>
<rect x="345.2" y="388.76" width="19.8" height="9.47" fill="#a0b6ff"/>
<rect x="366.0" y="388.76" width="16.0" height="9.47" fill="#bfcfff"/>
<rect x="382.9" y="388.76" width="16.5" height="9.47" fill="#cad7ff"/>
<rect x="400.4" y="388.76" width="16.1" height="9.47" fill="#fafbff"/>
<rect x="417.3" y="388.76" width="20.2" height="9.47" fill="#eaefff"/>
<rect x="438.2" y="388.76" width="16.7" height="9.47" fill="#dfe7ff"/>
<rect x="455.6" y="388.76" width="19.6" height="9.47" fill="#cad7ff"/>
<rect x="476.0" y="388.76" width="20.2" height="9.47" fill="#d5dfff"/>
<rect x="497.1" y="388.76" width="19.8" height="9.47" fill="#809eff"/>
<rect x="518.0" y="388.76" width="16.0" height="9.47" fill="#eaefff"/>
<rect x="535.2" y="388.76" width="15.8" height="9.47" fill="#b5c6ff"/>
<rect x="552.1" y="388.76" width="20.1" height="9.47" fill="#f4f7ff"/>
<rect x="573.3" y="388.76" width="15.8" height="9.47" fill="#eaefff"/>
<rect x="590.2" y="388.76" width="15.8" height="9.47" fill="#dfe7ff"/>
<rect x="607.1" y="388.76" width="15.9" height="9.47" fill="#f4f7ff"/>
<rect x="624.4" y="388.76" width="16.6" height="9.47" fill="#f4f7ff"/>
<rect x="345.2" y="400.20" width="19.8" height="9.47" fill="#a0b6ff"/>
<rect x="366.0" y="400.20" width="16.0" height="9.47" fill="#bfcfff"/>
<rect x="382.9" y="400.20" width="16.5" height="9.47" fill="#cad7ff"/>
<rect x="400.4" y="400.20" width="16.1" height="9.47" fill="#fafbff"/>
<rect x="417.3" y="400.20" width="20.2" height="9.47" fill="#eaefff"/>
<rect x="438.2" y="400.20" width="16.7" height="9.47" fill="#dfe7ff"/>
<rect x="455.6" y="400.20" width="19.6" height="9.47" fill="#cad7ff"/>
<rect x="476.0" y="400.20" width="20.2" height="9.47" fill="#d5dfff"/>
<rect x="497.1" y="400.20" width="19.8" height="9.47" fill="#809eff"/>
<rect x="518.0" y="400.20" width="16.0" height="9.47" fill="#eaefff"/>
<rect x="535.2" y="400.20" width="15.8" height="9.47" fill="#b5c6ff"/>
<rect x="552.1" y="400.20" width="20.1" height="9.47" fill="#f4f7ff"/>
<rect x="573.3" y="400.20" width="15.8" height="9.47" fill="#eaefff"/>
<rect x="590.2" y="400.20" width="15.8" height="9.47" fill="#dfe7ff"/>
<rect x="607.1" y="400.20" width="15.9" height="9.47" fill="#f4f7ff"/>
<rect x="624.4" y="400.20" width="16.6" height="9.47" fill="#f4f7ff"/>
<rect x="345.2" y="411.64" width="19.8" height="9.47" fill="#a0b6ff"/>
<rect x="366.0" y="411.64" width="16.0" height="9.47" fill="#bfcfff"/>
<rect x="382.9" y="411.64" width="16.5" height="9.47" fill="#cad7ff"/>
<rect x="400.4" y="411.64" width="16.1" height="9.47" fill="#fafbff"/>
<rect x="417.3" y="411.64" width="20.2" height="9.47" fill="#eaefff"/>
<rect x="438.2" y="411.64" width="16.7" height="9.47" fill="#dfe7ff"/>
<rect x="455.6" y="411.64" width="19.6" height="9.47" fill="#cad7ff"/>
<rect x="476.0" y="411.64" width="20.2" height="9.47" fill="#d5dfff"/>
<rect x="497.1" y="411.64" width="19.8" height="9.47" fill="#809eff"/>
<rect x="518.0" y="411.64" width="16.0" height="9.47" fill="#eaefff"/>
<rect x="535.2" y="411.64" width="15.8" height="9.47" fill="#b5c6ff"/>
<rect x="552.1" y="411.64" width="20.1" height="9.47" fill="#f4f7ff"/>
<rect x="573.3" y="411.64" width="15.8" height="9.47" fill="#eaefff"/>
<rect x="590.2" y="411.64" width="15.8" height="9.47" fill="#dfe7ff"/>
<rect x="607.1" y="411.64" width="15.9" height="9.47" fill="#f4f7ff"/>
<rect x="624.4" y="411.64" width="16.6" height="9.47" fill="#f4f7ff"/>
<rect x="345.2" y="423.08" width="19.8" height="9.47" fill="#a0b6ff"/>
<rect x="366.0" y="423.08" width="16.0" height="9.47" fill="#bfcfff"/>
<rect x="382.9" y="423.08" width="16.5" height="9.47" fill="#cad7ff"/>
<rect x="400.4" y="423.08" width="16.1" height="9.47" fill="#fafbff"/>
<rect x="417.3" y="423.08" width="20.2" height="9.47" fill="#eaefff"/>
<rect x="438.2" y="423.08" width="16.7" height="9.47" fill="#dfe7ff"/>
<rect x="455.6" y="423.08" width="19.6" height="9.47" fill="#cad7ff"/>
<rect x="476.0" y="423.08" width="20.2" height="9.47" fill="#d5dfff"/>
<rect x="497.1" y="423.08" width="19.8" height="9.47" fill="#809eff"/>
<rect x="518.0" y="423.08" width="16.0" height="9.47" fill="#eaefff"/>
<rect x="535.2" y="423.08" width="15.8" height="9.47" fill="#b5c6ff"/>
<rect x="552.1" y="423.08" width="20.1" height="9.47" fill="#f4f7ff"/>
<rect x="573.3" y="423.08" width="15.8" height="9.47" fill="#eaefff"/>
<rect x="590.2" y="423.08" width="15.8" height="9.47" fill="#dfe7ff"/>
<rect x="607.1" y="423.08" width="15.9" height="9.47" fill="#f4f7ff"/>
<rect x="624.4" y="423.08" width="16.6" height="9.47" fill="#f4f7ff"/>
<rect x="345.2" y="434.52" width="19.8" height="9.47" fill="#aabeff"/>
<rect x="366.0" y="434.52" width="16.0" height="9.47" fill="#b5c6ff"/>
<rect x="382.9" y="434.52" width="16.5" height="9.47" fill="#d5dfff"/>
<rect x="400.4" y="434.52" width="16.1" height="9.47" fill="#dfe7ff"/>
<rect x="417.3" y="434.52" width="20.2" height="9.47" fill="#eaefff"/>
<rect x="438.2" y="434.52" width="16.7" height="9.47" fill="#dfe7ff"/>
<rect x="455.6" y="434.52" width="19.6" height="9.47" fill="#cad7ff"/>
<rect x="476.0" y="434.52" width="20.2" height="9.47" fill="#cad7ff"/>
<rect x="497.1" y="434.52" width="19.8" height="9.47" fill="#809eff"/>
<rect x="518.0" y="434.52" width="16.0" height="9.47" fill="#eaefff"/>
<rect x="535.2" y="434.52" width="15.8" height="9.47" fill="#bfcfff"/>
<rect x="552.1" y="434.52" width="20.1" height="9.47" fill="#bacaff"/>
<rect x="573.3" y="434.52" width="15.8" height="9.47" fill="#cad7ff"/>
<rect x="590.2" y="434.52" width="15.8" height="9.47" fill="#dfe7ff"/>
<rect x="607.1" y="434.52" width="15.9" height="9.47" fill="#dfe7ff"/>
<rect x="624.4" y="434.52" width="16.6" height="9.47" fill="#f4f7ff"/>
<rect x="345.2" y="445.96" width="19.8" height="9.47" fill="#a0b6ff"/>
<rect x="366.0" y="445.96" width="16.0" height="9.47" fill="#b5c6ff"/>
<rect x="382.9" y="445.96" width="16.5" height="9.47" fill="#d5dfff"/>
<rect x="400.4" y="445.96" width="16.1" height="9.47" fill="#dfe7ff"/>
<rect x="417.3" y="445.96" width="20.2" height="9.47" fill="#eaefff"/>
<rect x="438.2" y="445.96" width="16.7" height="9.47" fill="#dfe7ff"/>
<rect x="455.6" y="445.96" width="19.6" height="9.47" fill="#cad7ff"/>
<rect x="476.0" y="445.96" width="20.2" height="9.47" fill="#cad7ff"/>
<rect x="497.1" y="445.96" width="19.8" height="9.47" fill="#809eff"/>
<rect x="518.0" y="445.96" width="16.0" height="9.47" fill="#eaefff"/>
<rect x="535.2" y="445.96" width="15.8" height="9.47" fill="#bfcfff"/>
<rect x="552.1" y="445.96" width="20.1" height="9.47" fill="#bacaff"/>
<rect x="573.3" y="445.96" width="15.8" height="9.47" fill="#cad7ff"/>
<rect x="590.2" y="445.96" width="15.8" height="9.47" fill="#dfe7ff"/>
<rect x="607.1" y="445.96" width="15.9" height="9.47" fill="#eaefff"/>
<rect x="624.4" y="445.96" width="16.6" height="9.47" fill="#f4f7ff"/>
<rect x="345.2" y="457.40" width="19.8" height="9.47" fill="#a0b6ff"/>
<rect x="366.0" y="457.40" width="16.0" height="9.47" fill="#b5c6ff"/>
<rect x="382.9" y="457.40" width="16.5" height="9.47" fill="#d5dfff"/>
<rect x="400.4" y="457.40" width="16.1" height="9.47" fill="#dfe7ff"/>
<rect x="417.3" y="457.40" width="20.2" height="9.47" fill="#eaefff"/>
<rect x="438.2" y="457.40" width="16.7" height="9.47" fill="#dfe7ff"/>
<rect x="455.6" y="457.40" width="19.6" height="9.47" fill="#dfe7ff"/>
<rect x="476.0" y="457.40" width="20.2" height="9.47" fill="#cad7ff"/>
<rect x="497.1" y="457.40" width="19.8" height="9.47" fill="#809eff"/>
<rect x="518.0" y="457.40" width="16.0" height="9.47" fill="#eaefff"/>
<rect x="535.2" y="457.40" width="15.8" height="9.47" fill="#bfcfff"/>
<rect x="552.1" y="457.40" width="20.1" height="9.47" fill="#c5d3ff"/>
<rect x="573.3" y="457.40" width="15.8" height="9.47" fill="#cad7ff"/>
<rect x="590.2" y="457.40" width="15.8" height="9.47" fill="#dfe7ff"/>
<rect x="607.1" y="457.40" width="15.9" height="9.47" fill="#eaefff"/>
<rect x="624.4" y="457.40" width="16.6" height="9.47" fill="#f4f7ff"/>
<rect x="345.2" y="468.84" width="19.8" height="9.47" fill="#a0b6ff"/>
<rect x="366.0" y="468.84" width="16.0" height="9.47" fill="#b5c6ff"/>
<rect x="382.9" y="468.84" width="16.5" height="9.47" fill="#d5dfff"/>
<rect x="400.4" y="468.84" width="16.1" height="9.47" fill="#dfe7ff"/>
<rect x="417.3" y="468.84" width="20.2" height="9.47" fill="#eaefff"/>
<rect x="438.2" y="468.84" width="16.7" height="9.47" fill="#dfe7ff"/>
<rect x="455.6" y="468.84" width="19.6" height="9.47" fill="#dfe7ff"/>
<rect x="476.0" y="468.84" width="20.2" height="9.47" fill="#cad7ff"/>
<rect x="497.1" y="468.84" width="19.8" height="9.47" fill="#809eff"/>
<rect x="518.0" y="468.84" width="16.0" height="9.47" fill="#eaefff"/>
<rect x="535.2" y="468.84" width="15.8" height="9.47" fill="#bfcfff"/>
<rect x="552.1" y="468.84" width="20.1" height="9.47" fill="#c5d3ff"/>
<rect x="573.3" y="468.84" width="15.8" height="9.47" fill="#cad7ff"/>
<rect x="590.2" y="468.84" width="15.8" height="9.47" fill="#dfe7ff"/>
<rect x="607.1" y="468.84" width="15.9" height="9.47" fill="#eaefff"/>
<rect x="624.4" y="468.84" width="16.6" height="9.47" fill="#f4f7ff"/>
<rect x="345.2" y="480.28" width="19.8" height="9.47" fill="#a0b6ff"/>
<rect x="366.0" y="480.28" width="16.0" height="9.47" fill="#cad7ff"/>
<rect x="382.9" y="480.28" width="16.5" height="9.47" fill="#dfe7ff"/>
<rect x="400.4" y="480.28" width="16.1" height="9.47" fill="#dfe7ff"/>
<rect x="417.3" y="480.28" width="20.2" height="9.47" fill="#eaefff"/>
<rect x="438.2" y="480.28" width="16.7" height="9.47" fill="#dfe7ff"/>
<rect x="455.6" y="480.28" width="19.6" height="9.47" fill="#dfe7ff"/>
<rect x="476.0" y="480.28" width="20.2" height="9.47" fill="#cad7ff"/>
<rect x="497.1" y="480.28" width="19.8" height="9.47" fill="#809eff"/>
<rect x="518.0" y="480.28" width="16.0" height="9.47" fill="#eaefff"/>
<rect x="535.2" y="480.28" width="15.8" height="9.47" fill="#bfcfff"/>
<rect x="552.1" y="480.28" width="20.1" height="9.47" fill="#c5d3ff"/>
<rect x="573.3" y="480.28" width="15.8" height="9.47" fill="#cad7ff"/>
<rect x="590.2" y="480.28" width="15.8" height="9.47" fill="#dfe7ff"/>
<rect x="607.1" y="480.28" width="15.9" height="9.47" fill="#eaefff"/>
<rect x="624.4" y="480.28" width="16.6" height="9.47" fill="#f4f7ff"/>
<rect x="345.2" y="491.72" width="19.8" height="9.47" fill="#a0b6ff"/>
<rect x="366.0" y="491.72" width="16.0" height="9.47" fill="#b5c6ff"/>
<rect x="382.9" y="491.72" width="16.5" height="9.47" fill="#d5dfff"/>
<rect x="400.4" y="491.72" width="16.1" height="9.47" fill="#dfe7ff"/>
<rect x="417.3" y="491.72" width="20.2" height="9.47" fill="#eaefff"/>
<rect x="438.2" y="491.72" width="16.7" height="9.47" fill="#dfe7ff"/>
<rect x="455.6" y="491.72" width="19.6" height="9.47" fill="#dfe7ff"/>
<rect x="476.0" y="491.72" width="20.2" height="9.47" fill="#cad7ff"/>
<rect x="497.1" y="491.72" width="19.8" height="9.47" fill="#809eff"/>
<rect x="518.0" y="491.72" width="16.0" height="9.47" fill="#eaefff"/>
<rect x="535.2" y="491.72" width="15.8" height="9.47" fill="#bfcfff"/>
<rect x="552.1" y="491.72" width="20.1" height="9.47" fill="#bacaff"/>
<rect x="573.3" y="491.72" width="15.8" height="9.47" fill="#cad7ff"/>
<rect x="590.2" y="491.72" width="15.8" height="9.47" fill="#dfe7ff"/>
<rect x="607.1" y="491.72" width="15.9" height="9.47" fill="#eaefff"/>
<rect x="624.4" y="491.72" width="16.6" height="9.47" fill="#f4f7ff"/>
<rect x="345.2" y="503.16" width="19.8" height="9.47" fill="#a0b6ff"/>
<rect x="366.0" y="503.16" width="16.0" height="9.47" fill="#b5c6ff"/>
<rect x="382.9" y="503.16" width="16.5" height="9.47" fill="#dfe7ff"/>
<rect x="400.4" y="503.16" width="16.1" height="9.47" fill="#dfe7ff"/>
<rect x="417.3" y="503.16" width="20.2" height="9.47" fill="#eaefff"/>
<rect x="438.2" y="503.16" width="16.7" height="9.47" fill="#dfe7ff"/>
<rect x="455.6" y="503.16" width="19.6" height="9.47" fill="#cad7ff"/>
<rect x="476.0" y="503.16" width="20.2" height="9.47" fill="#cad7ff"/>
<rect x="497.1" y="503.16" width="19.8" height="9.47" fill="#809eff"/>
<rect x="518.0" y="503.16" width="16.0" height="9.47" fill="#eaefff"/>
<rect x="535.2" y="503.16" width="15.8" height="9.47" fill="#bfcfff"/>
<rect x="552.1" y="503.16" width="20.1" height="9.47" fill="#c5d3ff"/>
<rect x="573.3" y="503.16" width="15.8" height="9.47" fill="#cad7ff"/>
<rect x="590.2" y="503.16" width="15.8" height="9.47" fill="#dfe7ff"/>
<rect x="607.1" y="503.16" width="15.9" height="9.47" fill="#eaefff"/>
<rect x="624.4" y="503.16" width="16.6" height="9.47" fill="#f4f7ff"/>
<rect x="345.2" y="514.60" width="19.8" height="9.47" fill="#a0b6ff"/>
<rect x="366.0" y="514.60" width="16.0" height="9.47" fill="#b5c6ff"/>
<rect x="382.9" y="514.60" width="16.5" height="9.47" fill="#dfe7ff"/>
<rect x="400.4" y="514.60" width="16.1" height="9.47" fill="#dfe7ff"/>
<rect x="417.3" y="514.60" width="20.2" height="9.47" fill="#eaefff"/>
<rect x="438.2" y="514.60" width="16.7" height="9.47" fill="#dfe7ff"/>
<rect x="455.6" y="514.60" width="19.6" height="9.47" fill="#cad7ff"/>
<rect x="476.0" y="514.60" width="20.2" height="9.47" fill="#cad7ff"/>
<rect x="497.1" y="514.60" width="19.8" height="9.47" fill="#809eff"/>
<rect x="518.0" y="514.60" width="16.0" height="9.47" fill="#eaefff"/>
<rect x="535.2" y="514.60" width="15.8" height="9.47" fill="#bfcfff"/>
<rect x="552.1" y="514.60" width="20.1" height="9.47" fill="#c5d3ff"/>
<rect x="573.3" y="514.60" width="15.8" height="9.47" fill="#cad7ff"/>
<rect x="590.2" y="514.60" width="15.8" height="9.47" fill="#dfe7ff"/>
<rect x="607.1" y="514.60" width="15.9" height="9.47" fill="#eaefff"/>
<rect x="624.4" y="514.60" width="16.6" height="9.47" fill="#f4f7ff"/>
<rect x="345.2" y="526.04" width="19.8" height="9.47" fill="#d5dfff"/>
<rect x="366.0" y="526.04" width="16.0" height="9.47" fill="#b5c6ff"/>
<rect x="382.9" y="526.04" width="16.5" height="9.47" fill="#dfe7ff"/>
<rect x="400.4" y="526.04" width="16.1" height="9.47" fill="#dfe7ff"/>
<rect x="417.3" y="526.04" width="20.2" height="9.47" fill="#eaefff"/>
<rect x="438.2" y="526.04" width="16.7" height="9.47" fill="#dfe7ff"/>
<rect x="455.6" y="526.04" width="19.6" height="9.47" fill="#cad7ff"/>
<rect x="476.0" y="526.04" width="20.2" height="9.47" fill="#cad7ff"/>
<rect x="497.1" y="526.04" width="19.8" height="9.47" fill="#809eff"/>
<rect x="518.0" y="526.04" width="16.0" height="9.47" fill="#eaefff"/>
<rect x="535.2" y="526.04" width="15.8" height="9.47" fill="#bfcfff"/>
<rect x="552.1" y="526.04" width="20.1" height="9.47" fill="#dfe7ff"/>
<rect x="573.3" y="526.04" width="15.8" height="9.47" fill="#cad7ff"/>
<rect x="590.2" y="526.04" width="15.8" height="9.47" fill="#dfe7ff"/>
<rect x="607.1" y="526.04" width="15.9" height="9.47" fill="#eaefff"/>
<rect x="624.4" y="526.04" width="16.6" height="9.47" fill="#f4f7ff"/>
<rect x="345.2" y="537.48" width="19.8" height="9.47" fill="#b5c6ff"/>
<rect x="366.0" y="537.48" width="16.0" height="9.47" fill="#b5c6ff"/>
<rect x="382.9" y="537.48" width="16.5" height="9.47" fill="#d5dfff"/>
<rect x="400.4" y="537.48" width="16.1" height="9.47" fill="#dfe7ff"/>
<rect x="417.3" y="537.48" width="20.2" height="9.47" fill="#eaefff"/>
<rect x="438.2" y="537.48" width="16.7" height="9.47" fill="#dfe7ff"/>
<rect x="455.6" y="537.48" width="19.6" height="9.47" fill="#cad7ff"/>
<rect x="476.0" y="537.48" width="20.2" height="9.47" fill="#cad7ff"/>
<rect x="497.1" y="537.48" width="19.8" height="9.47" fill="#809eff"/>
<rect x="518.0" y="537.48" width="16.0" height="9.47" fill="#eaefff"/>
<rect x="535.2" y="537.48" width="15.8" height="9.47" fill="#bfcfff"/>
<rect x="552.1" y="537.48" width="20.1" height="9.47" fill="#cfdbff"/>
<rect x="573.3" y="537.48" width="15.8" height="9.47" fill="#cad7ff"/>
<rect x="590.2" y="537.48" width="15.8" height="9.47" fill="#dfe7ff"/>
<rect x="607.1" y="537.48" width="15.9" height="9.47" fill="#eaefff"/>
<rect x="624.4" y="537.48" width="16.6" height="9.47" fill="#f4f7ff"/>
<g filter="url(#gs)" font-size="6.05" fill="#111" stroke="#111" stroke-width="0.1"><text x="349.0" y="143.80">5.0</text><text x="369.8" y="143.80">7.0</text><text x="386.7" y="143.80">5.0</text><text x="404.2" y="143.80">1.0</text><text x="421.1" y="143.80">2.0</text><text x="442.0" y="143.80">3.0</text><text x="459.4" y="143.80">2.0</text><text x="479.8" y="143.80">4.0</text><text x="500.9" y="143.80">16.0</text><text x="521.8" y="143.80">3.0</text><text x="539.0" y="143.80">6.0</text><text x="555.9" y="143.80">3.0</text><text x="577.1" y="143.80">4.0</text><text x="594.0" y="143.80">4.0</text><text x="610.9" y="143.80">2.0</text><text x="628.2" y="143.80">2.5</text><text x="349.0" y="155.24">9.0</text><text x="369.8" y="155.24">4.0</text><text x="386.7" y="155.24">2.0</text><text x="404.2" y="155.24">3.0</text><text x="421.1" y="155.24">2.0</text><text x="442.0" y="155.24">3.0</text><text x="459.4" y="155.24">5.0</text><text x="479.8" y="155.24">6.0</text><text x="500.9" y="155.24">9.0</text><text x="521.8" y="155.24">6.0</text><text x="539.0" y="155.24">5.0</text><text x="555.9" y="155.24">4.0</text><text x="577.1" y="155.24">2.0</text><text x="594.0" y="155.24">4.0</text><text x="610.9" y="155.24">2.0</text><text x="628.2" y="155.24">1.5</text><text x="349.0" y="166.68">8.0</text><text x="369.8" y="166.68">5.0</text><text x="386.7" y="166.68">2.0</text><text x="404.2" y="166.68">3.0</text><text x="421.1" y="166.68">2.0</text><text x="442.0" y="166.68">3.0</text><text x="459.4" y="166.68">5.0</text><text x="479.8" y="166.68">4.0</text><text x="500.9" y="166.68">13.0</text><text x="521.8" y="166.68">7.0</text><text x="539.0" y="166.68">5.0</text><text x="555.9" y="166.68">6.5</text><text x="577.1" y="166.68">4.0</text><text x="594.0" y="166.68">4.0</text><text x="610.9" y="166.68">2.0</text><text x="628.2" y="166.68">1.5</text><text x="349.0" y="178.12">8.0</text><text x="369.8" y="178.12">5.0</text><text x="386.7" y="178.12">2.0</text><text x="404.2" y="178.12">3.0</text><text x="421.1" y="178.12">2.0</text><text x="442.0" y="178.12">3.0</text><text x="459.4" y="178.12">3.0</text><text x="479.8" y="178.12">4.0</text><text x="500.9" y="178.12">13.0</text><text x="521.8" y="178.12">7.0</text><text x="539.0" y="178.12">5.0</text><text x="555.9" y="178.12">6.5</text><text x="577.1" y="178.12">4.0</text><text x="594.0" y="178.12">4.0</text><text x="610.9" y="178.12">2.0</text><text x="628.2" y="178.12">1.5</text><text x="349.0" y="189.56">10.0</text><text x="369.8" y="189.56">5.0</text><text x="386.7" y="189.56">2.0</text><text x="404.2" y="189.56">3.0</text><text x="421.1" y="189.56">2.0</text><text x="442.0" y="189.56">3.0</text><text x="459.4" y="189.56">5.0</text><text x="479.8" y="189.56">5.0</text><text x="500.9" y="189.56">13.0</text><text x="521.8" y="189.56">3.0</text><text x="539.0" y="189.56">5.0</text><text x="555.9" y="189.56">6.5</text><text x="577.1" y="189.56">?</text><text x="594.0" y="189.56">4.0</text><text x="610.9" y="189.56">2.0</text><text x="628.2" y="189.56">1.5</text><text x="349.0" y="201.00">6.0</text><text x="369.8" y="201.00">6.0</text><text x="386.7" y="201.00">4.0</text><text x="404.2" y="201.00">1.0</text><text x="421.1" y="201.00">2.0</text><text x="442.0" y="201.00">3.0</text><text x="459.4" y="201.00">4.0</text><text x="479.8" y="201.00">1.0</text><text x="500.9" y="201.00">17.0</text><text x="521.8" y="201.00">6.0</text><text x="539.0" y="201.00">5.0</text><text x="555.9" y="201.00">4.0</text><text x="577.1" y="201.00">1.0</text><text x="594.0" y="201.00">3.0</text><text x="610.9" y="201.00">2.0</text><text x="628.2" y="201.00">1.5</text><text x="349.0" y="212.44">7.0</text><text x="369.8" y="212.44">7.0</text><text x="386.7" y="212.44">4.0</text><text x="404.2" y="212.44">2.0</text><text x="421.1" y="212.44">3.0</text><text x="442.0" y="212.44">4.0</text><text x="459.4" y="212.44">4.0</text><text x="479.8" y="212.44">8.0</text><text x="500.9" y="212.44">13.0</text><text x="521.8" y="212.44">6.0</text><text x="539.0" y="212.44">3.0</text><text x="555.9" y="212.44">?</text><text x="577.1" y="212.44">5.0</text><text x="594.0" y="212.44">3.0</text><text x="610.9" y="212.44">3.0</text><text x="628.2" y="212.44">1.5</text><text x="349.0" y="223.88">8.0</text><text x="369.8" y="223.88">7.0</text><text x="386.7" y="223.88">4.0</text><text x="404.2" y="223.88">2.0</text><text x="421.1" y="223.88">2.0</text><text x="442.0" y="223.88">3.0</text><text x="459.4" y="223.88">4.0</text><text x="479.8" y="223.88">8.0</text><text x="500.9" y="223.88">19.0</text><text x="521.8" y="223.88">8.0</text><text x="539.0" y="223.88">3.0</text><text x="555.9" y="223.88">4.0</text><text x="577.1" y="223.88">5.0</text><text x="594.0" y="223.88">3.0</text><text x="610.9" y="223.88">3.0</text><text x="628.2" y="223.88">1.5</text><text x="349.0" y="235.32">10.0</text><text x="369.8" y="235.32">6.0</text><text x="386.7" y="235.32">5.0</text><text x="404.2" y="235.32">0.5</text><text x="421.1" y="235.32">2.0</text><text x="442.0" y="235.32">4.0</text><text x="459.4" y="235.32">5.0</text><text x="479.8" y="235.32">4.0</text><text x="500.9" y="235.32">12.0</text><text x="521.8" y="235.32">2.0</text><text x="539.0" y="235.32">7.0</text><text x="555.9" y="235.32">1.0</text><text x="577.1" y="235.32">5.0</text><text x="594.0" y="235.32">3.0</text><text x="610.9" y="235.32">1.0</text><text x="628.2" y="235.32">3.5</text><text x="349.0" y="246.76">10.0</text><text x="369.8" y="246.76">6.0</text><text x="386.7" y="246.76">5.0</text><text x="404.2" y="246.76">0.5</text><text x="421.1" y="246.76">2.0</text><text x="442.0" y="246.76">4.0</text><text x="459.4" y="246.76">5.0</text><text x="479.8" y="246.76">4.0</text><text x="500.9" y="246.76">12.0</text><text x="521.8" y="246.76">2.0</text><text x="539.0" y="246.76">7.0</text><text x="555.9" y="246.76">1.0</text><text x="577.1" y="246.76">4.0</text><text x="594.0" y="246.76">3.0</text><text x="610.9" y="246.76">1.0</text><text x="628.2" y="246.76">3.5</text><text x="349.0" y="258.20">10.0</text><text x="369.8" y="258.20">6.0</text><text x="386.7" y="258.20">5.0</text><text x="404.2" y="258.20">0.5</text><text x="421.1" y="258.20">2.0</text><text x="442.0" y="258.20">4.0</text><text x="459.4" y="258.20">3.0</text><text x="479.8" y="258.20">4.0</text><text x="500.9" y="258.20">12.0</text><text x="521.8" y="258.20">2.0</text><text x="539.0" y="258.20">7.0</text><text x="555.9" y="258.20">1.0</text><text x="577.1" y="258.20">5.0</text><text x="594.0" y="258.20">3.0</text><text x="610.9" y="258.20">1.0</text><text x="628.2" y="258.20">3.5</text><text x="349.0" y="269.64">10.0</text><text x="369.8" y="269.64">6.0</text><text x="386.7" y="269.64">5.0</text><text x="404.2" y="269.64">0.5</text><text x="421.1" y="269.64">2.0</text><text x="442.0" y="269.64">4.0</text><text x="459.4" y="269.64">5.0</text><text x="479.8" y="269.64">4.0</text><text x="500.9" y="269.64">12.0</text><text x="521.8" y="269.64">2.0</text><text x="539.0" y="269.64">8.0</text><text x="555.9" y="269.64">1.0</text><text x="577.1" y="269.64">5.0</text><text x="594.0" y="269.64">3.0</text><text x="610.9" y="269.64">1.0</text><text x="628.2" y="269.64">3.5</text><text x="349.0" y="281.08">10.0</text><text x="369.8" y="281.08">6.0</text><text x="386.7" y="281.08">5.0</text><text x="404.2" y="281.08">0.5</text><text x="421.1" y="281.08">2.0</text><text x="442.0" y="281.08">4.0</text><text x="459.4" y="281.08">5.0</text><text x="479.8" y="281.08">4.0</text><text x="500.9" y="281.08">12.0</text><text x="521.8" y="281.08">2.0</text><text x="539.0" y="281.08">9.0</text><text x="555.9" y="281.08">1.0</text><text x="577.1" y="281.08">5.0</text><text x="594.0" y="281.08">3.0</text><text x="610.9" y="281.08">1.0</text><text x="628.2" y="281.08">3.5</text><text x="349.0" y="292.52">10.0</text><text x="369.8" y="292.52">6.0</text><text x="386.7" y="292.52">2.0</text><text x="404.2" y="292.52">0.5</text><text x="421.1" y="292.52">2.0</text><text x="442.0" y="292.52">4.0</text><text x="459.4" y="292.52">5.0</text><text x="479.8" y="292.52">4.0</text><text x="500.9" y="292.52">12.0</text><text x="521.8" y="292.52">2.0</text><text x="539.0" y="292.52">8.0</text><text x="555.9" y="292.52">1.0</text><text x="577.1" y="292.52">5.0</text><text x="594.0" y="292.52">3.0</text><text x="610.9" y="292.52">1.0</text><text x="628.2" y="292.52">3.5</text><text x="349.0" y="303.96">9.0</text><text x="369.8" y="303.96">6.0</text><text x="386.7" y="303.96">5.0</text><text x="404.2" y="303.96">0.5</text><text x="421.1" y="303.96">2.0</text><text x="442.0" y="303.96">4.0</text><text x="459.4" y="303.96">5.0</text><text x="479.8" y="303.96">4.0</text><text x="500.9" y="303.96">12.0</text><text x="521.8" y="303.96">2.0</text><text x="539.0" y="303.96">8.0</text><text x="555.9" y="303.96">1.0</text><text x="577.1" y="303.96">5.0</text><text x="594.0" y="303.96">3.0</text><text x="610.9" y="303.96">1.0</text><text x="628.2" y="303.96">3.0</text><text x="349.0" y="315.40">9.0</text><text x="369.8" y="315.40">6.0</text><text x="386.7" y="315.40">5.0</text><text x="404.2" y="315.40">0.5</text><text x="421.1" y="315.40">2.0</text><text x="442.0" y="315.40">4.0</text><text x="459.4" y="315.40">5.0</text><text x="479.8" y="315.40">4.0</text><text x="500.9" y="315.40">12.0</text><text x="521.8" y="315.40">2.0</text><text x="539.0" y="315.40">8.0</text><text x="555.9" y="315.40">1.0</text><text x="577.1" y="315.40">5.0</text><text x="594.0" y="315.40">3.0</text><text x="610.9" y="315.40">1.0</text><text x="628.2" y="315.40">3.0</text><text x="349.0" y="326.84">9.0</text><text x="369.8" y="326.84">6.0</text><text x="386.7" y="326.84">5.0</text><text x="404.2" y="326.84">0.5</text><text x="421.1" y="326.84">2.0</text><text x="442.0" y="326.84">4.0</text><text x="459.4" y="326.84">5.0</text><text x="479.8" y="326.84">4.0</text><text x="500.9" y="326.84">12.0</text><text x="521.8" y="326.84">2.0</text><text x="539.0" y="326.84">8.0</text><text x="555.9" y="326.84">1.0</text><text x="577.1" y="326.84">5.0</text><text x="594.0" y="326.84">3.0</text><text x="610.9" y="326.84">1.0</text><text x="628.2" y="326.84">3.0</text><text x="349.0" y="338.28">11.0</text><text x="369.8" y="338.28">6.0</text><text x="386.7" y="338.28">5.0</text><text x="404.2" y="338.28">0.5</text><text x="421.1" y="338.28">2.0</text><text x="442.0" y="338.28">2.0</text><text x="459.4" y="338.28">5.0</text><text x="479.8" y="338.28">4.0</text><text x="500.9" y="338.28">12.0</text><text x="521.8" y="338.28">2.0</text><text x="539.0" y="338.28">8.0</text><text x="555.9" y="338.28">1.0</text><text x="577.1" y="338.28">5.0</text><text x="594.0" y="338.28">3.0</text><text x="610.9" y="338.28">1.0</text><text x="628.2" y="338.28">3.5</text><text x="349.0" y="349.72">4.0</text><text x="369.8" y="349.72">6.0</text><text x="386.7" y="349.72">2.0</text><text x="404.2" y="349.72">0.5</text><text x="421.1" y="349.72">2.0</text><text x="442.0" y="349.72">4.0</text><text x="459.4" y="349.72">5.0</text><text x="479.8" y="349.72">4.0</text><text x="500.9" y="349.72">12.0</text><text x="521.8" y="349.72">2.0</text><text x="539.0" y="349.72">7.0</text><text x="555.9" y="349.72">1.0</text><text x="577.1" y="349.72">4.0</text><text x="594.0" y="349.72">3.0</text><text x="610.9" y="349.72">1.0</text><text x="628.2" y="349.72">3.5</text><text x="349.0" y="361.16">9.0</text><text x="369.8" y="361.16">6.0</text><text x="386.7" y="361.16">2.0</text><text x="404.2" y="361.16">0.5</text><text x="421.1" y="361.16">2.0</text><text x="442.0" y="361.16">4.0</text><text x="459.4" y="361.16">3.0</text><text x="479.8" y="361.16">4.0</text><text x="500.9" y="361.16">12.0</text><text x="521.8" y="361.16">2.0</text><text x="539.0" y="361.16">7.0</text><text x="555.9" y="361.16">1.0</text><text x="577.1" y="361.16">5.0</text><text x="594.0" y="361.16">1.0</text><text x="610.9" y="361.16">1.0</text><text x="628.2" y="361.16">3.5</text><text x="349.0" y="372.60">9.0</text><text x="369.8" y="372.60">6.0</text><text x="386.7" y="372.60">5.0</text><text x="404.2" y="372.60">0.5</text><text x="421.1" y="372.60">2.0</text><text x="442.0" y="372.60">3.0</text><text x="459.4" y="372.60">3.0</text><text x="479.8" y="372.60">3.0</text><text x="500.9" y="372.60">12.0</text><text x="521.8" y="372.60">2.0</text><text x="539.0" y="372.60">7.0</text><text x="555.9" y="372.60">1.0</text><text x="577.1" y="372.60">5.0</text><text x="594.0" y="372.60">3.0</text><text x="610.9" y="372.60">1.0</text><text x="628.2" y="372.60">3.5</text><text x="349.0" y="384.04">9.0</text><text x="369.8" y="384.04">6.0</text><text x="386.7" y="384.04">5.0</text><text x="404.2" y="384.04">0.5</text><text x="421.1" y="384.04">2.0</text><text x="442.0" y="384.04">3.0</text><text x="459.4" y="384.04">5.0</text><text x="479.8" y="384.04">4.0</text><text x="500.9" y="384.04">12.0</text><text x="521.8" y="384.04">2.0</text><text x="539.0" y="384.04">7.0</text><text x="555.9" y="384.04">1.0</text><text x="577.1" y="384.04">2.0</text><text x="594.0" y="384.04">3.0</text><text x="610.9" y="384.04">1.0</text><text x="628.2" y="384.04">1.0</text><text x="349.0" y="395.48">9.0</text><text x="369.8" y="395.48">6.0</text><text x="386.7" y="395.48">5.0</text><text x="404.2" y="395.48">0.5</text><text x="421.1" y="395.48">2.0</text><text x="442.0" y="395.48">3.0</text><text x="459.4" y="395.48">5.0</text><text x="479.8" y="395.48">4.0</text><text x="500.9" y="395.48">12.0</text><text x="521.8" y="395.48">2.0</text><text x="539.0" y="395.48">7.0</text><text x="555.9" y="395.48">1.0</text><text x="577.1" y="395.48">2.0</text><text x="594.0" y="395.48">3.0</text><text x="610.9" y="395.48">1.0</text><text x="628.2" y="395.48">1.0</text><text x="349.0" y="406.92">9.0</text><text x="369.8" y="406.92">6.0</text><text x="386.7" y="406.92">5.0</text><text x="404.2" y="406.92">0.5</text><text x="421.1" y="406.92">2.0</text><text x="442.0" y="406.92">3.0</text><text x="459.4" y="406.92">5.0</text><text x="479.8" y="406.92">4.0</text><text x="500.9" y="406.92">12.0</text><text x="521.8" y="406.92">2.0</text><text x="539.0" y="406.92">7.0</text><text x="555.9" y="406.92">1.0</text><text x="577.1" y="406.92">2.0</text><text x="594.0" y="406.92">3.0</text><text x="610.9" y="406.92">1.0</text><text x="628.2" y="406.92">1.0</text><text x="349.0" y="418.36">9.0</text><text x="369.8" y="418.36">6.0</text><text x="386.7" y="418.36">5.0</text><text x="404.2" y="418.36">0.5</text><text x="421.1" y="418.36">2.0</text><text x="442.0" y="418.36">3.0</text><text x="459.4" y="418.36">5.0</text><text x="479.8" y="418.36">4.0</text><text x="500.9" y="418.36">12.0</text><text x="521.8" y="418.36">2.0</text><text x="539.0" y="418.36">7.0</text><text x="555.9" y="418.36">1.0</text><text x="577.1" y="418.36">2.0</text><text x="594.0" y="418.36">3.0</text><text x="610.9" y="418.36">1.0</text><text x="628.2" y="418.36">1.0</text><text x="349.0" y="429.80">9.0</text><text x="369.8" y="429.80">6.0</text><text x="386.7" y="429.80">5.0</text><text x="404.2" y="429.80">0.5</text><text x="421.1" y="429.80">2.0</text><text x="442.0" y="429.80">3.0</text><text x="459.4" y="429.80">5.0</text><text x="479.8" y="429.80">4.0</text><text x="500.9" y="429.80">12.0</text><text x="521.8" y="429.80">2.0</text><text x="539.0" y="429.80">7.0</text><text x="555.9" y="429.80">1.0</text><text x="577.1" y="429.80">2.0</text><text x="594.0" y="429.80">3.0</text><text x="610.9" y="429.80">1.0</text><text x="628.2" y="429.80">1.0</text><text x="349.0" y="441.24">8.0</text><text x="369.8" y="441.24">7.0</text><text x="386.7" y="441.24">4.0</text><text x="404.2" y="441.24">3.0</text><text x="421.1" y="441.24">2.0</text><text x="442.0" y="441.24">3.0</text><text x="459.4" y="441.24">5.0</text><text x="479.8" y="441.24">5.0</text><text x="500.9" y="441.24">15.0</text><text x="521.8" y="441.24">2.0</text><text x="539.0" y="441.24">6.0</text><text x="555.9" y="441.24">6.5</text><text x="577.1" y="441.24">5.0</text><text x="594.0" y="441.24">3.0</text><text x="610.9" y="441.24">3.0</text><text x="628.2" y="441.24">1.0</text><text x="349.0" y="452.68">9.0</text><text x="369.8" y="452.68">7.0</text><text x="386.7" y="452.68">4.0</text><text x="404.2" y="452.68">3.0</text><text x="421.1" y="452.68">2.0</text><text x="442.0" y="452.68">3.0</text><text x="459.4" y="452.68">5.0</text><text x="479.8" y="452.68">5.0</text><text x="500.9" y="452.68">15.0</text><text x="521.8" y="452.68">2.0</text><text x="539.0" y="452.68">6.0</text><text x="555.9" y="452.68">6.5</text><text x="577.1" y="452.68">5.0</text><text x="594.0" y="452.68">3.0</text><text x="610.9" y="452.68">2.0</text><text x="628.2" y="452.68">1.0</text><text x="349.0" y="464.12">9.0</text><text x="369.8" y="464.12">7.0</text><text x="386.7" y="464.12">4.0</text><text x="404.2" y="464.12">3.0</text><text x="421.1" y="464.12">2.0</text><text x="442.0" y="464.12">3.0</text><text x="459.4" y="464.12">3.0</text><text x="479.8" y="464.12">5.0</text><text x="500.9" y="464.12">15.0</text><text x="521.8" y="464.12">2.0</text><text x="539.0" y="464.12">6.0</text><text x="555.9" y="464.12">5.5</text><text x="577.1" y="464.12">5.0</text><text x="594.0" y="464.12">3.0</text><text x="610.9" y="464.12">2.0</text><text x="628.2" y="464.12">1.0</text><text x="349.0" y="475.56">9.0</text><text x="369.8" y="475.56">7.0</text><text x="386.7" y="475.56">4.0</text><text x="404.2" y="475.56">3.0</text><text x="421.1" y="475.56">2.0</text><text x="442.0" y="475.56">3.0</text><text x="459.4" y="475.56">3.0</text><text x="479.8" y="475.56">5.0</text><text x="500.9" y="475.56">15.0</text><text x="521.8" y="475.56">2.0</text><text x="539.0" y="475.56">6.0</text><text x="555.9" y="475.56">5.5</text><text x="577.1" y="475.56">5.0</text><text x="594.0" y="475.56">3.0</text><text x="610.9" y="475.56">2.0</text><text x="628.2" y="475.56">1.0</text><text x="349.0" y="487.00">9.0</text><text x="369.8" y="487.00">5.0</text><text x="386.7" y="487.00">3.0</text><text x="404.2" y="487.00">3.0</text><text x="421.1" y="487.00">2.0</text><text x="442.0" y="487.00">3.0</text><text x="459.4" y="487.00">3.0</text><text x="479.8" y="487.00">5.0</text><text x="500.9" y="487.00">15.0</text><text x="521.8" y="487.00">2.0</text><text x="539.0" y="487.00">6.0</text><text x="555.9" y="487.00">5.5</text><text x="577.1" y="487.00">5.0</text><text x="594.0" y="487.00">3.0</text><text x="610.9" y="487.00">2.0</text><text x="628.2" y="487.00">1.0</text><text x="349.0" y="498.44">9.0</text><text x="369.8" y="498.44">7.0</text><text x="386.7" y="498.44">4.0</text><text x="404.2" y="498.44">3.0</text><text x="421.1" y="498.44">2.0</text><text x="442.0" y="498.44">3.0</text><text x="459.4" y="498.44">3.0</text><text x="479.8" y="498.44">5.0</text><text x="500.9" y="498.44">15.0</text><text x="521.8" y="498.44">2.0</text><text x="539.0" y="498.44">6.0</text><text x="555.9" y="498.44">6.5</text><text x="577.1" y="498.44">5.0</text><text x="594.0" y="498.44">3.0</text><text x="610.9" y="498.44">2.0</text><text x="628.2" y="498.44">1.0</text><text x="349.0" y="509.88">9.0</text><text x="369.8" y="509.88">7.0</text><text x="386.7" y="509.88">3.0</text><text x="404.2" y="509.88">3.0</text><text x="421.1" y="509.88">2.0</text><text x="442.0" y="509.88">3.0</text><text x="459.4" y="509.88">5.0</text><text x="479.8" y="509.88">5.0</text><text x="500.9" y="509.88">15.0</text><text x="521.8" y="509.88">2.0</text><text x="539.0" y="509.88">6.0</text><text x="555.9" y="509.88">5.5</text><text x="577.1" y="509.88">5.0</text><text x="594.0" y="509.88">3.0</text><text x="610.9" y="509.88">2.0</text><text x="628.2" y="509.88">1.0</text><text x="349.0" y="521.32">9.0</text><text x="369.8" y="521.32">7.0</text><text x="386.7" y="521.32">3.0</text><text x="404.2" y="521.32">3.0</text><text x="421.1" y="521.32">2.0</text><text x="442.0" y="521.32">3.0</text><text x="459.4" y="521.32">5.0</text><text x="479.8" y="521.32">5.0</text><text x="500.9" y="521.32">15.0</text><text x="521.8" y="521.32">2.0</text><text x="539.0" y="521.32">6.0</text><text x="555.9" y="521.32">5.5</text><text x="577.1" y="521.32">5.0</text><text x="594.0" y="521.32">3.0</text><text x="610.9" y="521.32">2.0</text><text x="628.2" y="521.32">1.0</text><text x="349.0" y="532.76">4.0</text><text x="369.8" y="532.76">7.0</text><text x="386.7" y="532.76">3.0</text><text x="404.2" y="532.76">3.0</text><text x="421.1" y="532.76">2.0</text><text x="442.0" y="532.76">3.0</text><text x="459.4" y="532.76">5.0</text><text x="479.8" y="532.76">5.0</text><text x="500.9" y="532.76">15.0</text><text x="521.8" y="532.76">2.0</text><text x="539.0" y="532.76">6.0</text><text x="555.9" y="532.76">3.0</text><text x="577.1" y="532.76">5.0</text><text x="594.0" y="532.76">3.0</text><text x="610.9" y="532.76">2.0</text><text x="628.2" y="532.76">1.0</text><text x="349.0" y="544.20">7.0</text><text x="369.8" y="544.20">7.0</text><text x="386.7" y="544.20">4.0</text><text x="404.2" y="544.20">3.0</text><text x="421.1" y="544.20">2.0</text><text x="442.0" y="544.20">3.0</text><text x="459.4" y="544.20">5.0</text><text x="479.8" y="544.20">5.0</text><text x="500.9" y="544.20">15.0</text><text x="521.8" y="544.20">2.0</text><text x="539.0" y="544.20">6.0</text><text x="555.9" y="544.20">4.5</text><text x="577.1" y="544.20">5.0</text><text x="594.0" y="544.20">3.0</text><text x="610.9" y="544.20">2.0</text><text x="628.2" y="544.20">1.0</text></g>
<g filter="url(#gs)" font-size="6.2" fill="#000" stroke="#000" stroke-width="0.12"><text transform="translate(357.9,134.8) rotate(-90) scale(0.85,1)">Sa0122</text><text transform="translate(376.8,134.8) rotate(-90) scale(0.85,1)">Sa0266</text><text transform="translate(393.9,134.8) rotate(-90) scale(0.85,1)">Sa0311</text><text transform="translate(411.2,134.8) rotate(-90) scale(0.85,1)">Sa0387</text><text transform="translate(430.2,134.8) rotate(-90) scale(0.85,1)">Sa0550</text><text transform="translate(449.3,134.8) rotate(-90) scale(0.85,1)">Sa0684</text><text transform="translate(468.2,134.8) rotate(-90) scale(0.85,1)">Sa0704</text><text transform="translate(488.9,134.8) rotate(-90) scale(0.85,1)">Sa0964</text><text transform="translate(509.8,134.8) rotate(-90) scale(0.85,1)">Sa1097</text><text transform="translate(528.8,134.8) rotate(-90) scale(0.85,1)">Sa1132</text><text transform="translate(545.9,134.8) rotate(-90) scale(0.85,1)">Sa1194</text><text transform="translate(565.0,134.8) rotate(-90) scale(0.85,1)">Sa1291</text><text transform="translate(584.0,134.8) rotate(-90) scale(0.85,1)">Sa1729</text><text transform="translate(600.9,134.8) rotate(-90) scale(0.85,1)">Sa1866</text><text transform="translate(617.8,134.8) rotate(-90) scale(0.85,1)">Sa2039</text><text transform="translate(635.5,134.8) rotate(-90) scale(0.85,1)">Sa2511</text></g>
<path d="M195.5 164.5L195.5 176.5M195.5 164.5L206.5 164.5M195.5 176.5L214.5 176.5M135.5 170.5L135.5 187.5M135.5 170.5L195.5 170.5M135.5 187.5L174.5 187.5M89.5 153.5L89.5 178.5M89.5 153.5L196.5 153.5M89.5 178.5L135.5 178.5M135.5 210.5L135.5 221.5M135.5 210.5L232.5 210.5M135.5 221.5L200.5 221.5M70.5 198.5L70.5 215.5M70.5 198.5L222.5 198.5M70.5 215.5L135.5 215.5M241.5 233.5L241.5 244.5M241.5 233.5L251.5 233.5M241.5 244.5L262.5 244.5M235.5 238.5L235.5 256.5M235.5 238.5L241.5 238.5M235.5 256.5L260.5 256.5M240.5 267.5L240.5 279.5M240.5 267.5L255.5 267.5M240.5 279.5L255.5 279.5M230.5 247.5L230.5 273.5M230.5 247.5L235.5 247.5M230.5 273.5L240.5 273.5M219.5 260.5L219.5 290.5M219.5 260.5L230.5 260.5M219.5 290.5L245.5 290.5M253.5 302.5L253.5 313.5M253.5 307.5L253.5 324.5M214.5 315.5L214.5 336.5M214.5 315.5L253.5 315.5M214.5 336.5L268.5 336.5M209.5 275.5L209.5 325.5M209.5 275.5L219.5 275.5M209.5 325.5L214.5 325.5M215.5 347.5L215.5 359.5M215.5 347.5L269.5 347.5M215.5 359.5L283.5 359.5M198.5 300.5L198.5 353.5M198.5 300.5L209.5 300.5M198.5 353.5L215.5 353.5M176.5 326.5L176.5 370.5M176.5 326.5L198.5 326.5M176.5 370.5L240.5 370.5M219.5 382.5L219.5 393.5M219.5 387.5L219.5 404.5M219.5 395.5L219.5 416.5M219.5 405.5L219.5 427.5M166.5 348.5L166.5 416.5M166.5 348.5L176.5 348.5M166.5 416.5L219.5 416.5M151.5 450.5L151.5 560.5M151.5 450.5L165.5 450.5M144.5 439.5L144.5 508.5M144.5 439.5L196.5 439.5M144.5 508.5L151.5 508.5M54.5 382.5L54.5 474.5M54.5 382.5L166.5 382.5M54.5 474.5L144.5 474.5M37.5 206.5L37.5 428.5M37.5 206.5L70.5 206.5M37.5 428.5L54.5 428.5M30.5 165.5L30.5 317.5M30.5 165.5L89.5 165.5M30.5 317.5L37.5 317.5M18.5 141.5L18.5 241.5M18.5 141.5L184.5 141.5M18.5 241.5L30.5 241.5M15.5 191.5L18.5 191.5M15.5 191.5L15.5 560.5M175.5 462.5L175.5 473.5M174.5 467.5L174.5 484.5M174.5 467.5L175.5 467.5M174.5 484.5L232.5 484.5M169.5 475.5L169.5 496.5M169.5 475.5L174.5 475.5M169.5 496.5L195.5 496.5M153.5 485.5L169.5 485.5M153.5 485.5L153.5 560.5M187.5 507.5L187.5 519.5M176.5 513.5L176.5 530.5M176.5 513.5L187.5 513.5M176.5 530.5L226.5 530.5M160.5 521.5L176.5 521.5M160.5 521.5L160.5 560.5M191.5 541.5L191.5 560.5" stroke="#5e5e5e" stroke-width="1" fill="none" stroke-linecap="square"/>
<g fill="#fff" stroke="#5c5c5c" stroke-width="1"><rect x="187.5" y="137.5" width="12" height="9"/><rect x="199.5" y="148.5" width="22" height="9"/><rect x="209.5" y="159.5" width="19" height="10"/><rect x="217.5" y="171.5" width="29" height="9"/><rect x="177.5" y="182.5" width="19" height="10"/><rect x="225.5" y="194.5" width="18" height="9"/><rect x="235.5" y="205.5" width="21" height="10"/><rect x="203.5" y="217.5" width="29" height="9"/><rect x="254.5" y="228.5" width="19" height="10"/><rect x="265.5" y="240.5" width="21" height="9"/><rect x="263.5" y="251.5" width="37" height="9"/><rect x="258.5" y="262.5" width="37" height="10"/><rect x="258.5" y="274.5" width="21" height="9"/><rect x="248.5" y="285.5" width="37" height="10"/><rect x="256.5" y="297.5" width="15" height="9"/><rect x="256.5" y="308.5" width="37" height="10"/><rect x="256.5" y="320.5" width="37" height="9"/><rect x="270.5" y="331.5" width="21" height="10"/><rect x="272.5" y="343.5" width="25" height="9"/><rect x="286.5" y="354.5" width="21" height="9"/><rect x="243.5" y="365.5" width="25" height="10"/><rect x="222.5" y="377.5" width="36" height="9"/><rect x="222.5" y="388.5" width="37" height="10"/><rect x="222.5" y="400.5" width="37" height="9"/><rect x="222.5" y="411.5" width="37" height="10"/><rect x="222.5" y="423.5" width="37" height="9"/><rect x="198.5" y="434.5" width="29" height="9"/><rect x="168.5" y="445.5" width="18" height="10"/><rect x="178.5" y="457.5" width="15" height="9"/><rect x="178.5" y="468.5" width="23" height="10"/><rect x="235.5" y="480.5" width="23" height="9"/><rect x="197.5" y="491.5" width="18" height="10"/><rect x="190.5" y="503.5" width="18" height="9"/><rect x="190.5" y="514.5" width="18" height="10"/><rect x="228.5" y="526.5" width="25" height="9"/><rect x="194.5" y="537.5" width="15" height="9"/></g>
<g filter="url(#gs)" font-size="6.25" fill="#333"><text x="190.1" y="144.4">7H</text><text x="202.1" y="155.8">1874#</text><text x="212.1" y="167.3">339E</text><text x="220.1" y="178.7">TrSa110</text><text x="180.1" y="190.2">NL59</text><text x="228.1" y="201.6">3685</text><text x="238.1" y="213.0">sa263</text><text x="206.1" y="224.5">TrSa180</text><text x="257.1" y="235.9">338E</text><text x="268.1" y="247.4">sa573</text><text x="266.1" y="258.8">Harm46_50</text><text x="261.1" y="270.2">Harm23_43</text><text x="261.1" y="281.7">sa351</text><text x="251.1" y="293.1">Harm16_50</text><text x="259.1" y="304.6">BL5</text><text x="259.1" y="316.0">Harm32_50</text><text x="259.1" y="327.4">Harm33_50</text><text x="273.1" y="338.9">sa723</text><text x="275.1" y="350.3">sa2805</text><text x="289.1" y="361.8">sa722</text><text x="246.1" y="373.2">sa2900</text><text x="225.1" y="384.6">Harm11_43</text><text x="225.1" y="396.1">Harm12_43</text><text x="225.1" y="407.5">Harm13_43</text><text x="225.1" y="419.0">Harm38_50</text><text x="225.1" y="430.4">Harm39_50</text><text x="201.1" y="441.8">TrSa224</text><text x="171.1" y="453.3">2241</text><text x="181.1" y="464.7">825</text><text x="181.1" y="476.2">Tur-11</text><text x="238.1" y="487.6">Tur-20</text><text x="200.1" y="499.0">3639</text><text x="193.1" y="510.5">2695</text><text x="193.1" y="521.9">5006</text><text x="231.1" y="533.4">sa2745</text><text x="197.1" y="544.8">324</text></g>
   </svg>
  </div>
  <div id="vscroll">
   <svg class="abs" style="left:0;top:0" width="17" height="469" viewBox="0 0 17 469">
    <path d="M5 11.2L8.5 7.2L12 11.2z" fill="#505050"/>
    <path d="M5 458.2L8.5 462.2L12 458.2z" fill="#505050"/>
   </svg>
   <div id="thumb"></div>
   <svg class="abs" style="left:0;top:0" width="17" height="469" viewBox="0 0 17 469">
    <path d="M4 46.5h7M4 49.5h7M4 52.5h7" stroke="#4c4c4c" stroke-width="1"/>
    <path d="M4 47.5h7M4 50.5h7M4 53.5h7" stroke="#f6f6f6" stroke-width="1"/>
   </svg>
  </div>
  <div id="botline"></div>
  <div id="bottom">
   <svg class="abs" style="left:0;top:0" width="693" height="45" viewBox="8 547 693 45">
    <!-- focus rect -->
    
    <!-- zoom slider track -->
    <rect x="54" y="559" width="241" height="1" fill="#a9a9a9"/><rect x="54" y="560" width="241" height="2" fill="#fbfbfb"/><rect x="54" y="559" width="1" height="2" fill="#8c8c8c"/>
    <g stroke="#aeaeae" stroke-width="1">
     <path d="M54.5 570v7M174.5 570v7M294.5 570v7"/>
     <path d="M78.5 570v4M102.5 570v4M126.5 570v4M150.5 570v4M198.5 570v4M222.5 570v4M246.5 570v4M270.5 570v4"/>
    </g>
    <!-- zoom thumb -->
    <defs><linearGradient id="gz" x1="0" y1="0" x2="0" y2="1"><stop offset="0" stop-color="#eef7fd"/><stop offset=".5" stop-color="#ddeefb"/><stop offset=".52" stop-color="#bfe2f9"/><stop offset="1" stop-color="#a8daf6"/></linearGradient></defs>
    <path d="M112.5 553Q112.5 551.5 114 551.5H120Q121.5 551.5 121.5 553V563.6L117 568.4L112.5 563.6Z" fill="#37d4fa" stroke="#2d72b8" stroke-width="1"/>
    <path d="M114 553h6v10.1l-3 3.2l-3-3.2z" fill="url(#gz)"/>
    <!-- line length slider -->
    <rect x="383" y="559" width="241" height="1" fill="#a9a9a9"/><rect x="383" y="560" width="241" height="2" fill="#fbfbfb"/><rect x="383" y="559" width="1" height="2" fill="#8c8c8c"/>
    <g stroke="#aeaeae" stroke-width="1">
     <path d="M383.5 570v7M443.5 570v7M503.5 570v7M563.5 570v7M623.5 570v7"/>
     <path d="M395.5 570v4M407.5 570v4M419.5 570v4M431.5 570v4M455.5 570v4M467.5 570v4M479.5 570v4M491.5 570v4M515.5 570v4M527.5 570v4M539.5 570v4M551.5 570v4M575.5 570v4M587.5 570v4M599.5 570v4M611.5 570v4"/>
    </g>
    <defs><linearGradient id="gt" x1="0" y1="0" x2="0" y2="1"><stop offset="0" stop-color="#f2f2f2"/><stop offset=".5" stop-color="#e9e9e9"/><stop offset=".52" stop-color="#d9d9d9"/><stop offset="1" stop-color="#cdcdcd"/></linearGradient></defs>
    <path d="M426.5 553Q426.5 551.5 428 551.5H434Q435.5 551.5 435.5 553V563.6L431 568.4L426.5 563.6Z" fill="#fdfdfd" stroke="#5e5e5e" stroke-width="1"/>
    <path d="M428 553h6v10.1l-3 3.2l-3-3.2z" fill="url(#gt)"/>
   </svg>
   <div class="abs" style="left:35px;top:2px;width:263px;height:41px;border:1px dotted #444"></div>
   <div class="abs" style="left:0;top:44px;width:693px;height:1px;background:#fff"></div><div class="abs" style="left:692px;top:0;width:1px;height:45px;background:#fff"></div>
   <div class="lbl" style="left:4.6px;top:16.7px;letter-spacing:-0.45px">Zoom:</div>
   <div class="lbl" style="left:307.2px;top:16.7px;letter-spacing:-0.15px">Line length:</div>
   <div class="tk" style="left:46.5px;top:32px">0%</div>
   <div class="tk" style="left:166.5px;top:32px">100%</div>
   <div class="tk" style="left:286px;top:32px">200%</div>
   <div class="tk" style="left:375.5px;top:32px">0%</div>
   <div class="tk" style="left:435.5px;top:32px">100%</div>
   <div class="tk" style="left:495.5px;top:32px">200%</div>
   <div class="tk" style="left:555.5px;top:32px">300%</div>
   <div class="tk" style="left:615.5px;top:32px">400%</div>
  </div>
 </div>
</div>
</body></html>
